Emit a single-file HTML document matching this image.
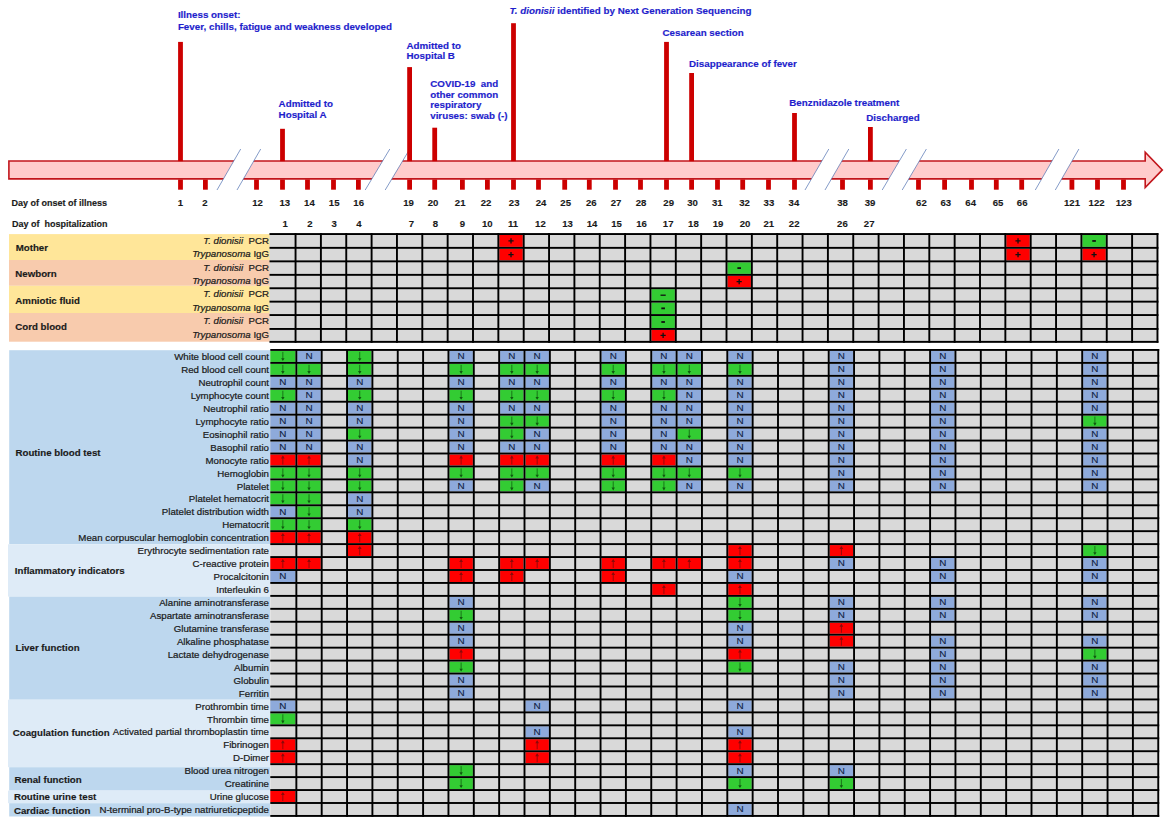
<!DOCTYPE html>
<html><head><meta charset="utf-8"><title>Timeline</title>
<style>html,body{margin:0;padding:0;background:#fff;}body{width:1171px;height:826px;overflow:hidden;}svg{display:block}</style>
</head><body>
<svg width="1171" height="826" viewBox="0 0 1171 826">
<path d="M8.9,161.0 L1145.2,161.0 L1145.2,152.3 L1162.3,169.9 L1145.2,187.6 L1145.2,178.9 L8.9,178.9 Z" fill="#ffcccc" stroke="#c2161c" stroke-width="1.6"/>
<polygon points="217.0,190 240.7,149 260.7,149 237.0,190" fill="#ffffff"/>
<polygon points="365.2,190 389.8,149 409.8,149 385.2,190" fill="#ffffff"/>
<polygon points="805.0,190 828.8,149 848.8,149 825.0,190" fill="#ffffff"/>
<polygon points="882.2,190 906.4,149 926.4,149 902.2,190" fill="#ffffff"/>
<polygon points="1035.3,190 1058.9,149 1078.9,149 1055.3,190" fill="#ffffff"/>
<rect x="178.10" y="179.5" width="4.8" height="10.20" fill="#cc0000"/>
<rect x="203.00" y="179.5" width="4.8" height="10.20" fill="#cc0000"/>
<rect x="254.10" y="179.5" width="4.8" height="10.20" fill="#cc0000"/>
<rect x="280.10" y="179.5" width="4.8" height="10.20" fill="#cc0000"/>
<rect x="305.10" y="179.5" width="4.8" height="10.20" fill="#cc0000"/>
<rect x="331.10" y="179.5" width="4.8" height="10.20" fill="#cc0000"/>
<rect x="356.00" y="179.5" width="4.8" height="10.20" fill="#cc0000"/>
<rect x="407.20" y="179.5" width="4.8" height="10.20" fill="#cc0000"/>
<rect x="432.30" y="179.5" width="4.8" height="10.20" fill="#cc0000"/>
<rect x="460.00" y="179.5" width="4.8" height="10.20" fill="#cc0000"/>
<rect x="485.00" y="179.5" width="4.8" height="10.20" fill="#cc0000"/>
<rect x="511.10" y="179.5" width="4.8" height="10.20" fill="#cc0000"/>
<rect x="536.10" y="179.5" width="4.8" height="10.20" fill="#cc0000"/>
<rect x="562.30" y="179.5" width="4.8" height="10.20" fill="#cc0000"/>
<rect x="586.90" y="179.5" width="4.8" height="10.20" fill="#cc0000"/>
<rect x="613.10" y="179.5" width="4.8" height="10.20" fill="#cc0000"/>
<rect x="638.10" y="179.5" width="4.8" height="10.20" fill="#cc0000"/>
<rect x="664.10" y="179.5" width="4.8" height="10.20" fill="#cc0000"/>
<rect x="689.20" y="179.5" width="4.8" height="10.20" fill="#cc0000"/>
<rect x="715.10" y="179.5" width="4.8" height="10.20" fill="#cc0000"/>
<rect x="740.30" y="179.5" width="4.8" height="10.20" fill="#cc0000"/>
<rect x="766.10" y="179.5" width="4.8" height="10.20" fill="#cc0000"/>
<rect x="792.10" y="179.5" width="4.8" height="10.20" fill="#cc0000"/>
<rect x="840.10" y="179.5" width="4.8" height="10.20" fill="#cc0000"/>
<rect x="868.00" y="179.5" width="4.8" height="10.20" fill="#cc0000"/>
<rect x="916.10" y="179.5" width="4.8" height="10.20" fill="#cc0000"/>
<rect x="942.20" y="179.5" width="4.8" height="10.20" fill="#cc0000"/>
<rect x="969.10" y="179.5" width="4.8" height="10.20" fill="#cc0000"/>
<rect x="993.90" y="179.5" width="4.8" height="10.20" fill="#cc0000"/>
<rect x="1019.30" y="179.5" width="4.8" height="10.20" fill="#cc0000"/>
<rect x="1069.50" y="179.5" width="4.8" height="10.20" fill="#cc0000"/>
<rect x="1095.10" y="179.5" width="4.8" height="10.20" fill="#cc0000"/>
<rect x="1121.10" y="179.5" width="4.8" height="10.20" fill="#cc0000"/>
<line x1="217.0" y1="190" x2="240.7" y2="149" stroke="#4f70b0" stroke-width="0.7"/>
<line x1="237.0" y1="190" x2="260.7" y2="149" stroke="#4f70b0" stroke-width="0.7"/>
<line x1="365.2" y1="190" x2="389.8" y2="149" stroke="#4f70b0" stroke-width="0.7"/>
<line x1="385.2" y1="190" x2="409.8" y2="149" stroke="#4f70b0" stroke-width="0.7"/>
<line x1="805.0" y1="190" x2="828.8" y2="149" stroke="#4f70b0" stroke-width="0.7"/>
<line x1="825.0" y1="190" x2="848.8" y2="149" stroke="#4f70b0" stroke-width="0.7"/>
<line x1="882.2" y1="190" x2="906.4" y2="149" stroke="#4f70b0" stroke-width="0.7"/>
<line x1="902.2" y1="190" x2="926.4" y2="149" stroke="#4f70b0" stroke-width="0.7"/>
<line x1="1035.3" y1="190" x2="1058.9" y2="149" stroke="#4f70b0" stroke-width="0.7"/>
<line x1="1055.3" y1="190" x2="1078.9" y2="149" stroke="#4f70b0" stroke-width="0.7"/>
<rect x="178.10" y="41.9" width="4.8" height="119.30" fill="#cc0000"/>
<rect x="280.10" y="128.8" width="4.8" height="32.40" fill="#cc0000"/>
<rect x="407.20" y="67.1" width="4.8" height="94.10" fill="#cc0000"/>
<rect x="432.30" y="127.7" width="4.8" height="33.50" fill="#cc0000"/>
<rect x="511.10" y="23.2" width="4.8" height="138.00" fill="#cc0000"/>
<rect x="664.10" y="41.9" width="4.8" height="119.30" fill="#cc0000"/>
<rect x="689.20" y="73.0" width="4.8" height="88.20" fill="#cc0000"/>
<rect x="792.10" y="113.0" width="4.8" height="48.20" fill="#cc0000"/>
<rect x="868.00" y="127.0" width="4.8" height="34.20" fill="#cc0000"/>
<text x="177.90" y="18.3" style="font-family:'Liberation Sans', sans-serif;font-weight:bold;font-size:9.8px;fill:#1e1ecc;stroke:#1e1ecc;stroke-width:0.15px" xml:space="preserve">Illness onset:</text>
<text x="177.90" y="29.6" style="font-family:'Liberation Sans', sans-serif;font-weight:bold;font-size:9.8px;fill:#1e1ecc;stroke:#1e1ecc;stroke-width:0.15px" xml:space="preserve">Fever, chills, fatigue and weakness developed</text>
<text x="278.60" y="107.0" style="font-family:'Liberation Sans', sans-serif;font-weight:bold;font-size:9.8px;fill:#1e1ecc;stroke:#1e1ecc;stroke-width:0.15px" xml:space="preserve">Admitted to</text>
<text x="278.60" y="118.0" style="font-family:'Liberation Sans', sans-serif;font-weight:bold;font-size:9.8px;fill:#1e1ecc;stroke:#1e1ecc;stroke-width:0.15px" xml:space="preserve">Hospital A</text>
<text x="406.50" y="48.7" style="font-family:'Liberation Sans', sans-serif;font-weight:bold;font-size:9.8px;fill:#1e1ecc;stroke:#1e1ecc;stroke-width:0.15px" xml:space="preserve">Admitted to</text>
<text x="406.50" y="59.4" style="font-family:'Liberation Sans', sans-serif;font-weight:bold;font-size:9.8px;fill:#1e1ecc;stroke:#1e1ecc;stroke-width:0.15px" xml:space="preserve">Hospital B</text>
<text x="430.20" y="86.5" style="font-family:'Liberation Sans', sans-serif;font-weight:bold;font-size:9.8px;fill:#1e1ecc;stroke:#1e1ecc;stroke-width:0.15px" xml:space="preserve">COVID-19  and</text>
<text x="430.20" y="97.5" style="font-family:'Liberation Sans', sans-serif;font-weight:bold;font-size:9.8px;fill:#1e1ecc;stroke:#1e1ecc;stroke-width:0.15px" xml:space="preserve">other common</text>
<text x="430.20" y="108.4" style="font-family:'Liberation Sans', sans-serif;font-weight:bold;font-size:9.8px;fill:#1e1ecc;stroke:#1e1ecc;stroke-width:0.15px" xml:space="preserve">respiratory</text>
<text x="430.20" y="119.4" style="font-family:'Liberation Sans', sans-serif;font-weight:bold;font-size:9.8px;fill:#1e1ecc;stroke:#1e1ecc;stroke-width:0.15px" xml:space="preserve">viruses: swab (-)</text>
<text x="509.5" y="13.7" style="font-family:'Liberation Sans', sans-serif;font-weight:bold;font-size:9.8px;fill:#1e1ecc;stroke:#1e1ecc;stroke-width:0.15px" xml:space="preserve"><tspan style="font-style:italic">T. dionisii</tspan> identified by Next Generation Sequencing</text>
<text x="662.50" y="36.1" style="font-family:'Liberation Sans', sans-serif;font-weight:bold;font-size:9.8px;fill:#1e1ecc;stroke:#1e1ecc;stroke-width:0.15px" xml:space="preserve">Cesarean section</text>
<text x="689.00" y="67.1" style="font-family:'Liberation Sans', sans-serif;font-weight:bold;font-size:9.8px;fill:#1e1ecc;stroke:#1e1ecc;stroke-width:0.15px" xml:space="preserve">Disappearance of fever</text>
<text x="789.30" y="106.1" style="font-family:'Liberation Sans', sans-serif;font-weight:bold;font-size:9.8px;fill:#1e1ecc;stroke:#1e1ecc;stroke-width:0.15px" xml:space="preserve">Benznidazole treatment</text>
<text x="866.30" y="121.2" style="font-family:'Liberation Sans', sans-serif;font-weight:bold;font-size:9.8px;fill:#1e1ecc;stroke:#1e1ecc;stroke-width:0.15px" xml:space="preserve">Discharged</text>
<text x="11.6" y="205.6" style="font-family:'Liberation Sans', sans-serif;font-weight:bold;font-size:9.0px;fill:#1a1a1a;stroke:#1a1a1a;stroke-width:0.15px" xml:space="preserve">Day of onset of illness</text>
<text x="12.0" y="226.5" style="font-family:'Liberation Sans', sans-serif;font-weight:bold;font-size:9.0px;fill:#1a1a1a;stroke:#1a1a1a;stroke-width:0.15px" xml:space="preserve">Day of  hospitalization</text>
<text x="180.3" y="205.6" text-anchor="middle" style="font-family:'Liberation Sans', sans-serif;font-weight:bold;font-size:9.6px;fill:#1a1a1a;stroke:#1a1a1a;stroke-width:0.12px">1</text>
<text x="204.8" y="205.6" text-anchor="middle" style="font-family:'Liberation Sans', sans-serif;font-weight:bold;font-size:9.6px;fill:#1a1a1a;stroke:#1a1a1a;stroke-width:0.12px">2</text>
<text x="257.6" y="205.6" text-anchor="middle" style="font-family:'Liberation Sans', sans-serif;font-weight:bold;font-size:9.6px;fill:#1a1a1a;stroke:#1a1a1a;stroke-width:0.12px">12</text>
<text x="284.8" y="205.6" text-anchor="middle" style="font-family:'Liberation Sans', sans-serif;font-weight:bold;font-size:9.6px;fill:#1a1a1a;stroke:#1a1a1a;stroke-width:0.12px">13</text>
<text x="309.4" y="205.6" text-anchor="middle" style="font-family:'Liberation Sans', sans-serif;font-weight:bold;font-size:9.6px;fill:#1a1a1a;stroke:#1a1a1a;stroke-width:0.12px">14</text>
<text x="334.2" y="205.6" text-anchor="middle" style="font-family:'Liberation Sans', sans-serif;font-weight:bold;font-size:9.6px;fill:#1a1a1a;stroke:#1a1a1a;stroke-width:0.12px">15</text>
<text x="358.7" y="205.6" text-anchor="middle" style="font-family:'Liberation Sans', sans-serif;font-weight:bold;font-size:9.6px;fill:#1a1a1a;stroke:#1a1a1a;stroke-width:0.12px">16</text>
<text x="408.5" y="205.6" text-anchor="middle" style="font-family:'Liberation Sans', sans-serif;font-weight:bold;font-size:9.6px;fill:#1a1a1a;stroke:#1a1a1a;stroke-width:0.12px">19</text>
<text x="433.1" y="205.6" text-anchor="middle" style="font-family:'Liberation Sans', sans-serif;font-weight:bold;font-size:9.6px;fill:#1a1a1a;stroke:#1a1a1a;stroke-width:0.12px">20</text>
<text x="460.2" y="205.6" text-anchor="middle" style="font-family:'Liberation Sans', sans-serif;font-weight:bold;font-size:9.6px;fill:#1a1a1a;stroke:#1a1a1a;stroke-width:0.12px">21</text>
<text x="486.1" y="205.6" text-anchor="middle" style="font-family:'Liberation Sans', sans-serif;font-weight:bold;font-size:9.6px;fill:#1a1a1a;stroke:#1a1a1a;stroke-width:0.12px">22</text>
<text x="514.2" y="205.6" text-anchor="middle" style="font-family:'Liberation Sans', sans-serif;font-weight:bold;font-size:9.6px;fill:#1a1a1a;stroke:#1a1a1a;stroke-width:0.12px">23</text>
<text x="541.1" y="205.6" text-anchor="middle" style="font-family:'Liberation Sans', sans-serif;font-weight:bold;font-size:9.6px;fill:#1a1a1a;stroke:#1a1a1a;stroke-width:0.12px">24</text>
<text x="565.7" y="205.6" text-anchor="middle" style="font-family:'Liberation Sans', sans-serif;font-weight:bold;font-size:9.6px;fill:#1a1a1a;stroke:#1a1a1a;stroke-width:0.12px">25</text>
<text x="591.3" y="205.6" text-anchor="middle" style="font-family:'Liberation Sans', sans-serif;font-weight:bold;font-size:9.6px;fill:#1a1a1a;stroke:#1a1a1a;stroke-width:0.12px">26</text>
<text x="616.1" y="205.6" text-anchor="middle" style="font-family:'Liberation Sans', sans-serif;font-weight:bold;font-size:9.6px;fill:#1a1a1a;stroke:#1a1a1a;stroke-width:0.12px">27</text>
<text x="641.0" y="205.6" text-anchor="middle" style="font-family:'Liberation Sans', sans-serif;font-weight:bold;font-size:9.6px;fill:#1a1a1a;stroke:#1a1a1a;stroke-width:0.12px">28</text>
<text x="668.7" y="205.6" text-anchor="middle" style="font-family:'Liberation Sans', sans-serif;font-weight:bold;font-size:9.6px;fill:#1a1a1a;stroke:#1a1a1a;stroke-width:0.12px">29</text>
<text x="692.6" y="205.6" text-anchor="middle" style="font-family:'Liberation Sans', sans-serif;font-weight:bold;font-size:9.6px;fill:#1a1a1a;stroke:#1a1a1a;stroke-width:0.12px">30</text>
<text x="717.3" y="205.6" text-anchor="middle" style="font-family:'Liberation Sans', sans-serif;font-weight:bold;font-size:9.6px;fill:#1a1a1a;stroke:#1a1a1a;stroke-width:0.12px">31</text>
<text x="744.5" y="205.6" text-anchor="middle" style="font-family:'Liberation Sans', sans-serif;font-weight:bold;font-size:9.6px;fill:#1a1a1a;stroke:#1a1a1a;stroke-width:0.12px">32</text>
<text x="768.9" y="205.6" text-anchor="middle" style="font-family:'Liberation Sans', sans-serif;font-weight:bold;font-size:9.6px;fill:#1a1a1a;stroke:#1a1a1a;stroke-width:0.12px">33</text>
<text x="793.9" y="205.6" text-anchor="middle" style="font-family:'Liberation Sans', sans-serif;font-weight:bold;font-size:9.6px;fill:#1a1a1a;stroke:#1a1a1a;stroke-width:0.12px">34</text>
<text x="842.6" y="205.6" text-anchor="middle" style="font-family:'Liberation Sans', sans-serif;font-weight:bold;font-size:9.6px;fill:#1a1a1a;stroke:#1a1a1a;stroke-width:0.12px">38</text>
<text x="870.0" y="205.6" text-anchor="middle" style="font-family:'Liberation Sans', sans-serif;font-weight:bold;font-size:9.6px;fill:#1a1a1a;stroke:#1a1a1a;stroke-width:0.12px">39</text>
<text x="921.4" y="205.6" text-anchor="middle" style="font-family:'Liberation Sans', sans-serif;font-weight:bold;font-size:9.6px;fill:#1a1a1a;stroke:#1a1a1a;stroke-width:0.12px">62</text>
<text x="945.8" y="205.6" text-anchor="middle" style="font-family:'Liberation Sans', sans-serif;font-weight:bold;font-size:9.6px;fill:#1a1a1a;stroke:#1a1a1a;stroke-width:0.12px">63</text>
<text x="970.7" y="205.6" text-anchor="middle" style="font-family:'Liberation Sans', sans-serif;font-weight:bold;font-size:9.6px;fill:#1a1a1a;stroke:#1a1a1a;stroke-width:0.12px">64</text>
<text x="998.0" y="205.6" text-anchor="middle" style="font-family:'Liberation Sans', sans-serif;font-weight:bold;font-size:9.6px;fill:#1a1a1a;stroke:#1a1a1a;stroke-width:0.12px">65</text>
<text x="1022.2" y="205.6" text-anchor="middle" style="font-family:'Liberation Sans', sans-serif;font-weight:bold;font-size:9.6px;fill:#1a1a1a;stroke:#1a1a1a;stroke-width:0.12px">66</text>
<text x="1072.0" y="205.6" text-anchor="middle" style="font-family:'Liberation Sans', sans-serif;font-weight:bold;font-size:9.6px;fill:#1a1a1a;stroke:#1a1a1a;stroke-width:0.12px">121</text>
<text x="1096.6" y="205.6" text-anchor="middle" style="font-family:'Liberation Sans', sans-serif;font-weight:bold;font-size:9.6px;fill:#1a1a1a;stroke:#1a1a1a;stroke-width:0.12px">122</text>
<text x="1123.8" y="205.6" text-anchor="middle" style="font-family:'Liberation Sans', sans-serif;font-weight:bold;font-size:9.6px;fill:#1a1a1a;stroke:#1a1a1a;stroke-width:0.12px">123</text>
<text x="285.1" y="226.5" text-anchor="middle" style="font-family:'Liberation Sans', sans-serif;font-weight:bold;font-size:9.6px;fill:#1a1a1a;stroke:#1a1a1a;stroke-width:0.12px">1</text>
<text x="310.0" y="226.5" text-anchor="middle" style="font-family:'Liberation Sans', sans-serif;font-weight:bold;font-size:9.6px;fill:#1a1a1a;stroke:#1a1a1a;stroke-width:0.12px">2</text>
<text x="334.2" y="226.5" text-anchor="middle" style="font-family:'Liberation Sans', sans-serif;font-weight:bold;font-size:9.6px;fill:#1a1a1a;stroke:#1a1a1a;stroke-width:0.12px">3</text>
<text x="358.8" y="226.5" text-anchor="middle" style="font-family:'Liberation Sans', sans-serif;font-weight:bold;font-size:9.6px;fill:#1a1a1a;stroke:#1a1a1a;stroke-width:0.12px">4</text>
<text x="411.4" y="226.5" text-anchor="middle" style="font-family:'Liberation Sans', sans-serif;font-weight:bold;font-size:9.6px;fill:#1a1a1a;stroke:#1a1a1a;stroke-width:0.12px">7</text>
<text x="435.4" y="226.5" text-anchor="middle" style="font-family:'Liberation Sans', sans-serif;font-weight:bold;font-size:9.6px;fill:#1a1a1a;stroke:#1a1a1a;stroke-width:0.12px">8</text>
<text x="462.3" y="226.5" text-anchor="middle" style="font-family:'Liberation Sans', sans-serif;font-weight:bold;font-size:9.6px;fill:#1a1a1a;stroke:#1a1a1a;stroke-width:0.12px">9</text>
<text x="487.3" y="226.5" text-anchor="middle" style="font-family:'Liberation Sans', sans-serif;font-weight:bold;font-size:9.6px;fill:#1a1a1a;stroke:#1a1a1a;stroke-width:0.12px">10</text>
<text x="513.0" y="226.5" text-anchor="middle" style="font-family:'Liberation Sans', sans-serif;font-weight:bold;font-size:9.6px;fill:#1a1a1a;stroke:#1a1a1a;stroke-width:0.12px">11</text>
<text x="540.4" y="226.5" text-anchor="middle" style="font-family:'Liberation Sans', sans-serif;font-weight:bold;font-size:9.6px;fill:#1a1a1a;stroke:#1a1a1a;stroke-width:0.12px">12</text>
<text x="567.5" y="226.5" text-anchor="middle" style="font-family:'Liberation Sans', sans-serif;font-weight:bold;font-size:9.6px;fill:#1a1a1a;stroke:#1a1a1a;stroke-width:0.12px">13</text>
<text x="592.0" y="226.5" text-anchor="middle" style="font-family:'Liberation Sans', sans-serif;font-weight:bold;font-size:9.6px;fill:#1a1a1a;stroke:#1a1a1a;stroke-width:0.12px">14</text>
<text x="616.6" y="226.5" text-anchor="middle" style="font-family:'Liberation Sans', sans-serif;font-weight:bold;font-size:9.6px;fill:#1a1a1a;stroke:#1a1a1a;stroke-width:0.12px">15</text>
<text x="641.5" y="226.5" text-anchor="middle" style="font-family:'Liberation Sans', sans-serif;font-weight:bold;font-size:9.6px;fill:#1a1a1a;stroke:#1a1a1a;stroke-width:0.12px">16</text>
<text x="668.2" y="226.5" text-anchor="middle" style="font-family:'Liberation Sans', sans-serif;font-weight:bold;font-size:9.6px;fill:#1a1a1a;stroke:#1a1a1a;stroke-width:0.12px">17</text>
<text x="693.4" y="226.5" text-anchor="middle" style="font-family:'Liberation Sans', sans-serif;font-weight:bold;font-size:9.6px;fill:#1a1a1a;stroke:#1a1a1a;stroke-width:0.12px">18</text>
<text x="718.0" y="226.5" text-anchor="middle" style="font-family:'Liberation Sans', sans-serif;font-weight:bold;font-size:9.6px;fill:#1a1a1a;stroke:#1a1a1a;stroke-width:0.12px">19</text>
<text x="745.0" y="226.5" text-anchor="middle" style="font-family:'Liberation Sans', sans-serif;font-weight:bold;font-size:9.6px;fill:#1a1a1a;stroke:#1a1a1a;stroke-width:0.12px">20</text>
<text x="768.8" y="226.5" text-anchor="middle" style="font-family:'Liberation Sans', sans-serif;font-weight:bold;font-size:9.6px;fill:#1a1a1a;stroke:#1a1a1a;stroke-width:0.12px">21</text>
<text x="794.2" y="226.5" text-anchor="middle" style="font-family:'Liberation Sans', sans-serif;font-weight:bold;font-size:9.6px;fill:#1a1a1a;stroke:#1a1a1a;stroke-width:0.12px">22</text>
<text x="842.4" y="226.5" text-anchor="middle" style="font-family:'Liberation Sans', sans-serif;font-weight:bold;font-size:9.6px;fill:#1a1a1a;stroke:#1a1a1a;stroke-width:0.12px">26</text>
<text x="869.2" y="226.5" text-anchor="middle" style="font-family:'Liberation Sans', sans-serif;font-weight:bold;font-size:9.6px;fill:#1a1a1a;stroke:#1a1a1a;stroke-width:0.12px">27</text>
<rect x="9" y="234.10" width="261" height="25.90" fill="#ffe699"/>
<rect x="9" y="260.00" width="261" height="25.80" fill="#f8cbad"/>
<rect x="9" y="285.80" width="261" height="27.20" fill="#ffe699"/>
<rect x="9" y="313.00" width="261" height="28.70" fill="#f8cbad"/>
<text x="15.7" y="251.3" style="font-family:'Liberation Sans', sans-serif;font-size:9.7px;font-weight:bold;fill:#1a1a1a;stroke:#1a1a1a;stroke-width:0.15px">Mother</text>
<text x="269.0" y="243.8" text-anchor="end" style="font-family:'Liberation Sans', sans-serif;font-size:9.7px;fill:#1a1a1a;stroke:#1a1a1a;stroke-width:0.22px" xml:space="preserve"><tspan style="font-style:italic">T. dionisii</tspan>  PCR</text>
<text x="269.0" y="257.4" text-anchor="end" style="font-family:'Liberation Sans', sans-serif;font-size:9.7px;fill:#1a1a1a;stroke:#1a1a1a;stroke-width:0.22px" xml:space="preserve"><tspan style="font-style:italic">Trypanosoma</tspan> IgG</text>
<text x="15.3" y="277.0" style="font-family:'Liberation Sans', sans-serif;font-size:9.7px;font-weight:bold;fill:#1a1a1a;stroke:#1a1a1a;stroke-width:0.15px">Newborn</text>
<text x="269.0" y="270.6" text-anchor="end" style="font-family:'Liberation Sans', sans-serif;font-size:9.7px;fill:#1a1a1a;stroke:#1a1a1a;stroke-width:0.22px" xml:space="preserve"><tspan style="font-style:italic">T. dionisii</tspan>  PCR</text>
<text x="269.0" y="284.1" text-anchor="end" style="font-family:'Liberation Sans', sans-serif;font-size:9.7px;fill:#1a1a1a;stroke:#1a1a1a;stroke-width:0.22px" xml:space="preserve"><tspan style="font-style:italic">Trypanosoma</tspan> IgG</text>
<text x="15.3" y="304.3" style="font-family:'Liberation Sans', sans-serif;font-size:9.7px;font-weight:bold;fill:#1a1a1a;stroke:#1a1a1a;stroke-width:0.15px">Amniotic fluid</text>
<text x="269.0" y="297.4" text-anchor="end" style="font-family:'Liberation Sans', sans-serif;font-size:9.7px;fill:#1a1a1a;stroke:#1a1a1a;stroke-width:0.22px" xml:space="preserve"><tspan style="font-style:italic">T. dionisii</tspan>  PCR</text>
<text x="269.0" y="310.6" text-anchor="end" style="font-family:'Liberation Sans', sans-serif;font-size:9.7px;fill:#1a1a1a;stroke:#1a1a1a;stroke-width:0.22px" xml:space="preserve"><tspan style="font-style:italic">Trypanosoma</tspan> IgG</text>
<text x="15.3" y="329.7" style="font-family:'Liberation Sans', sans-serif;font-size:9.7px;font-weight:bold;fill:#1a1a1a;stroke:#1a1a1a;stroke-width:0.15px">Cord blood</text>
<text x="269.0" y="324.0" text-anchor="end" style="font-family:'Liberation Sans', sans-serif;font-size:9.7px;fill:#1a1a1a;stroke:#1a1a1a;stroke-width:0.22px" xml:space="preserve"><tspan style="font-style:italic">T. dionisii</tspan>  PCR</text>
<text x="269.0" y="337.6" text-anchor="end" style="font-family:'Liberation Sans', sans-serif;font-size:9.7px;fill:#1a1a1a;stroke:#1a1a1a;stroke-width:0.22px" xml:space="preserve"><tspan style="font-style:italic">Trypanosoma</tspan> IgG</text>
<rect x="9.2" y="350.20" width="260.80" height="194.10" fill="#bdd7ee"/>
<rect x="8.0" y="544.30" width="262.00" height="52.30" fill="#deebf7"/>
<rect x="9.2" y="596.60" width="260.80" height="103.10" fill="#bdd7ee"/>
<rect x="8.0" y="699.70" width="262.00" height="67.50" fill="#deebf7"/>
<rect x="9.2" y="767.20" width="260.80" height="23.40" fill="#bdd7ee"/>
<rect x="8.0" y="790.60" width="262.00" height="12.60" fill="#deebf7"/>
<rect x="9.2" y="803.20" width="260.80" height="13.30" fill="#bdd7ee"/>
<text x="15.5" y="455.7" style="font-family:'Liberation Sans', sans-serif;font-size:9.7px;font-weight:bold;fill:#1a1a1a;stroke:#1a1a1a;stroke-width:0.15px">Routine blood test</text>
<text x="14.8" y="573.6" style="font-family:'Liberation Sans', sans-serif;font-size:9.7px;font-weight:bold;fill:#1a1a1a;stroke:#1a1a1a;stroke-width:0.15px">Inflammatory indicators</text>
<text x="15.5" y="651.2" style="font-family:'Liberation Sans', sans-serif;font-size:9.7px;font-weight:bold;fill:#1a1a1a;stroke:#1a1a1a;stroke-width:0.15px">Liver function</text>
<text x="12.8" y="735.7" style="font-family:'Liberation Sans', sans-serif;font-size:9.7px;font-weight:bold;fill:#1a1a1a;stroke:#1a1a1a;stroke-width:0.15px">Coagulation function</text>
<text x="14.4" y="782.5" style="font-family:'Liberation Sans', sans-serif;font-size:9.7px;font-weight:bold;fill:#1a1a1a;stroke:#1a1a1a;stroke-width:0.15px">Renal function</text>
<text x="13.9" y="799.8" style="font-family:'Liberation Sans', sans-serif;font-size:9.7px;font-weight:bold;fill:#1a1a1a;stroke:#1a1a1a;stroke-width:0.15px">Routine urine test</text>
<text x="13.9" y="814.3" style="font-family:'Liberation Sans', sans-serif;font-size:9.7px;font-weight:bold;fill:#1a1a1a;stroke:#1a1a1a;stroke-width:0.15px">Cardiac function</text>
<text x="269.0" y="360.10" text-anchor="end" style="font-family:'Liberation Sans', sans-serif;font-size:9.7px;fill:#1a1a1a;stroke:#1a1a1a;stroke-width:0.22px" xml:space="preserve">White blood cell count</text>
<text x="269.0" y="373.04" text-anchor="end" style="font-family:'Liberation Sans', sans-serif;font-size:9.7px;fill:#1a1a1a;stroke:#1a1a1a;stroke-width:0.22px" xml:space="preserve">Red blood cell count</text>
<text x="269.0" y="385.99" text-anchor="end" style="font-family:'Liberation Sans', sans-serif;font-size:9.7px;fill:#1a1a1a;stroke:#1a1a1a;stroke-width:0.22px" xml:space="preserve">Neutrophil count</text>
<text x="269.0" y="398.93" text-anchor="end" style="font-family:'Liberation Sans', sans-serif;font-size:9.7px;fill:#1a1a1a;stroke:#1a1a1a;stroke-width:0.22px" xml:space="preserve">Lymphocyte count</text>
<text x="269.0" y="411.88" text-anchor="end" style="font-family:'Liberation Sans', sans-serif;font-size:9.7px;fill:#1a1a1a;stroke:#1a1a1a;stroke-width:0.22px" xml:space="preserve">Neutrophil ratio</text>
<text x="269.0" y="424.82" text-anchor="end" style="font-family:'Liberation Sans', sans-serif;font-size:9.7px;fill:#1a1a1a;stroke:#1a1a1a;stroke-width:0.22px" xml:space="preserve">Lymphocyte ratio</text>
<text x="269.0" y="437.76" text-anchor="end" style="font-family:'Liberation Sans', sans-serif;font-size:9.7px;fill:#1a1a1a;stroke:#1a1a1a;stroke-width:0.22px" xml:space="preserve">Eosinophil ratio</text>
<text x="269.0" y="450.71" text-anchor="end" style="font-family:'Liberation Sans', sans-serif;font-size:9.7px;fill:#1a1a1a;stroke:#1a1a1a;stroke-width:0.22px" xml:space="preserve">Basophil ratio</text>
<text x="269.0" y="463.65" text-anchor="end" style="font-family:'Liberation Sans', sans-serif;font-size:9.7px;fill:#1a1a1a;stroke:#1a1a1a;stroke-width:0.22px" xml:space="preserve">Monocyte ratio</text>
<text x="269.0" y="476.60" text-anchor="end" style="font-family:'Liberation Sans', sans-serif;font-size:9.7px;fill:#1a1a1a;stroke:#1a1a1a;stroke-width:0.22px" xml:space="preserve">Hemoglobin</text>
<text x="269.0" y="489.54" text-anchor="end" style="font-family:'Liberation Sans', sans-serif;font-size:9.7px;fill:#1a1a1a;stroke:#1a1a1a;stroke-width:0.22px" xml:space="preserve">Platelet</text>
<text x="269.0" y="502.48" text-anchor="end" style="font-family:'Liberation Sans', sans-serif;font-size:9.7px;fill:#1a1a1a;stroke:#1a1a1a;stroke-width:0.22px" xml:space="preserve">Platelet hematocrit</text>
<text x="269.0" y="515.43" text-anchor="end" style="font-family:'Liberation Sans', sans-serif;font-size:9.7px;fill:#1a1a1a;stroke:#1a1a1a;stroke-width:0.22px" xml:space="preserve">Platelet distribution width</text>
<text x="269.0" y="528.37" text-anchor="end" style="font-family:'Liberation Sans', sans-serif;font-size:9.7px;fill:#1a1a1a;stroke:#1a1a1a;stroke-width:0.22px" xml:space="preserve">Hematocrit</text>
<text x="269.0" y="541.32" text-anchor="end" style="font-family:'Liberation Sans', sans-serif;font-size:9.7px;fill:#1a1a1a;stroke:#1a1a1a;stroke-width:0.22px" xml:space="preserve">Mean corpuscular hemoglobin concentration</text>
<text x="269.0" y="554.26" text-anchor="end" style="font-family:'Liberation Sans', sans-serif;font-size:9.7px;fill:#1a1a1a;stroke:#1a1a1a;stroke-width:0.22px" xml:space="preserve">Erythrocyte sedimentation rate</text>
<text x="269.0" y="567.20" text-anchor="end" style="font-family:'Liberation Sans', sans-serif;font-size:9.7px;fill:#1a1a1a;stroke:#1a1a1a;stroke-width:0.22px" xml:space="preserve">C-reactive protein</text>
<text x="269.0" y="580.15" text-anchor="end" style="font-family:'Liberation Sans', sans-serif;font-size:9.7px;fill:#1a1a1a;stroke:#1a1a1a;stroke-width:0.22px" xml:space="preserve">Procalcitonin</text>
<text x="269.0" y="593.09" text-anchor="end" style="font-family:'Liberation Sans', sans-serif;font-size:9.7px;fill:#1a1a1a;stroke:#1a1a1a;stroke-width:0.22px" xml:space="preserve">Interleukin 6</text>
<text x="269.0" y="606.04" text-anchor="end" style="font-family:'Liberation Sans', sans-serif;font-size:9.7px;fill:#1a1a1a;stroke:#1a1a1a;stroke-width:0.22px" xml:space="preserve">Alanine aminotransferase</text>
<text x="269.0" y="618.98" text-anchor="end" style="font-family:'Liberation Sans', sans-serif;font-size:9.7px;fill:#1a1a1a;stroke:#1a1a1a;stroke-width:0.22px" xml:space="preserve">Aspartate aminotransferase</text>
<text x="269.0" y="631.92" text-anchor="end" style="font-family:'Liberation Sans', sans-serif;font-size:9.7px;fill:#1a1a1a;stroke:#1a1a1a;stroke-width:0.22px" xml:space="preserve">Glutamine transferase</text>
<text x="269.0" y="644.87" text-anchor="end" style="font-family:'Liberation Sans', sans-serif;font-size:9.7px;fill:#1a1a1a;stroke:#1a1a1a;stroke-width:0.22px" xml:space="preserve">Alkaline phosphatase</text>
<text x="269.0" y="657.81" text-anchor="end" style="font-family:'Liberation Sans', sans-serif;font-size:9.7px;fill:#1a1a1a;stroke:#1a1a1a;stroke-width:0.22px" xml:space="preserve">Lactate dehydrogenase</text>
<text x="269.0" y="670.76" text-anchor="end" style="font-family:'Liberation Sans', sans-serif;font-size:9.7px;fill:#1a1a1a;stroke:#1a1a1a;stroke-width:0.22px" xml:space="preserve">Albumin</text>
<text x="269.0" y="683.70" text-anchor="end" style="font-family:'Liberation Sans', sans-serif;font-size:9.7px;fill:#1a1a1a;stroke:#1a1a1a;stroke-width:0.22px" xml:space="preserve">Globulin</text>
<text x="269.0" y="696.64" text-anchor="end" style="font-family:'Liberation Sans', sans-serif;font-size:9.7px;fill:#1a1a1a;stroke:#1a1a1a;stroke-width:0.22px" xml:space="preserve">Ferritin</text>
<text x="269.0" y="709.59" text-anchor="end" style="font-family:'Liberation Sans', sans-serif;font-size:9.7px;fill:#1a1a1a;stroke:#1a1a1a;stroke-width:0.22px" xml:space="preserve">Prothrombin time</text>
<text x="269.0" y="722.53" text-anchor="end" style="font-family:'Liberation Sans', sans-serif;font-size:9.7px;fill:#1a1a1a;stroke:#1a1a1a;stroke-width:0.22px" xml:space="preserve">Thrombin time</text>
<text x="269.0" y="735.48" text-anchor="end" style="font-family:'Liberation Sans', sans-serif;font-size:9.7px;fill:#1a1a1a;stroke:#1a1a1a;stroke-width:0.22px" xml:space="preserve">Activated partial thromboplastin time</text>
<text x="269.0" y="748.42" text-anchor="end" style="font-family:'Liberation Sans', sans-serif;font-size:9.7px;fill:#1a1a1a;stroke:#1a1a1a;stroke-width:0.22px" xml:space="preserve">Fibrinogen</text>
<text x="269.0" y="761.36" text-anchor="end" style="font-family:'Liberation Sans', sans-serif;font-size:9.7px;fill:#1a1a1a;stroke:#1a1a1a;stroke-width:0.22px" xml:space="preserve">D-Dimer</text>
<text x="269.0" y="774.31" text-anchor="end" style="font-family:'Liberation Sans', sans-serif;font-size:9.7px;fill:#1a1a1a;stroke:#1a1a1a;stroke-width:0.22px" xml:space="preserve">Blood urea nitrogen</text>
<text x="269.0" y="787.25" text-anchor="end" style="font-family:'Liberation Sans', sans-serif;font-size:9.7px;fill:#1a1a1a;stroke:#1a1a1a;stroke-width:0.22px" xml:space="preserve">Creatinine</text>
<text x="269.0" y="800.20" text-anchor="end" style="font-family:'Liberation Sans', sans-serif;font-size:9.7px;fill:#1a1a1a;stroke:#1a1a1a;stroke-width:0.22px" xml:space="preserve">Urine glucose</text>
<text x="269.0" y="813.14" text-anchor="end" style="font-family:'Liberation Sans', sans-serif;font-size:9.7px;fill:#1a1a1a;stroke:#1a1a1a;stroke-width:0.22px" xml:space="preserve">N-terminal pro-B-type natriureticpeptide</text>
<rect x="269.50" y="233.10" width="888.90" height="109.70" fill="#d9d9d9"/>
<rect x="499.30" y="235.00" width="23.45" height="11.90" fill="#ff0000"/>
<rect x="1006.30" y="235.00" width="23.45" height="11.90" fill="#ff0000"/>
<rect x="1082.35" y="235.00" width="23.45" height="11.90" fill="#33cc33"/>
<rect x="499.30" y="248.80" width="23.45" height="11.60" fill="#ff0000"/>
<rect x="1006.30" y="248.80" width="23.45" height="11.60" fill="#ff0000"/>
<rect x="1082.35" y="248.80" width="23.45" height="11.60" fill="#ff0000"/>
<rect x="727.45" y="262.30" width="23.45" height="11.60" fill="#33cc33"/>
<rect x="727.45" y="275.80" width="23.45" height="11.50" fill="#ff0000"/>
<rect x="651.40" y="289.20" width="23.45" height="11.50" fill="#33cc33"/>
<rect x="651.40" y="302.60" width="23.45" height="11.50" fill="#33cc33"/>
<rect x="651.40" y="316.00" width="23.45" height="12.00" fill="#33cc33"/>
<rect x="651.40" y="329.90" width="23.45" height="11.00" fill="#ff0000"/>
<rect x="269.50" y="233.10" width="888.90" height="1.9" fill="#000"/>
<rect x="269.50" y="246.90" width="888.90" height="1.9" fill="#000"/>
<rect x="269.50" y="260.40" width="888.90" height="1.9" fill="#000"/>
<rect x="269.50" y="273.90" width="888.90" height="1.9" fill="#000"/>
<rect x="269.50" y="287.30" width="888.90" height="1.9" fill="#000"/>
<rect x="269.50" y="300.70" width="888.90" height="1.9" fill="#000"/>
<rect x="269.50" y="314.10" width="888.90" height="1.9" fill="#000"/>
<rect x="269.50" y="328.00" width="888.90" height="1.9" fill="#000"/>
<rect x="269.50" y="340.90" width="888.90" height="1.9" fill="#000"/>
<rect x="294.60" y="233.10" width="1.9" height="109.70" fill="#000"/>
<rect x="319.95" y="233.10" width="1.9" height="109.70" fill="#000"/>
<rect x="345.30" y="233.10" width="1.9" height="109.70" fill="#000"/>
<rect x="370.65" y="233.10" width="1.9" height="109.70" fill="#000"/>
<rect x="396.00" y="233.10" width="1.9" height="109.70" fill="#000"/>
<rect x="421.35" y="233.10" width="1.9" height="109.70" fill="#000"/>
<rect x="446.70" y="233.10" width="1.9" height="109.70" fill="#000"/>
<rect x="472.05" y="233.10" width="1.9" height="109.70" fill="#000"/>
<rect x="497.40" y="233.10" width="1.9" height="109.70" fill="#000"/>
<rect x="522.75" y="233.10" width="1.9" height="109.70" fill="#000"/>
<rect x="548.10" y="233.10" width="1.9" height="109.70" fill="#000"/>
<rect x="573.45" y="233.10" width="1.9" height="109.70" fill="#000"/>
<rect x="598.80" y="233.10" width="1.9" height="109.70" fill="#000"/>
<rect x="624.15" y="233.10" width="1.9" height="109.70" fill="#000"/>
<rect x="649.50" y="233.10" width="1.9" height="109.70" fill="#000"/>
<rect x="674.85" y="233.10" width="1.9" height="109.70" fill="#000"/>
<rect x="700.20" y="233.10" width="1.9" height="109.70" fill="#000"/>
<rect x="725.55" y="233.10" width="1.9" height="109.70" fill="#000"/>
<rect x="750.90" y="233.10" width="1.9" height="109.70" fill="#000"/>
<rect x="776.25" y="233.10" width="1.9" height="109.70" fill="#000"/>
<rect x="801.60" y="233.10" width="1.9" height="109.70" fill="#000"/>
<rect x="826.95" y="233.10" width="1.9" height="109.70" fill="#000"/>
<rect x="852.30" y="233.10" width="1.9" height="109.70" fill="#000"/>
<rect x="877.65" y="233.10" width="1.9" height="109.70" fill="#000"/>
<rect x="903.00" y="233.10" width="1.9" height="109.70" fill="#000"/>
<rect x="928.35" y="233.10" width="1.9" height="109.70" fill="#000"/>
<rect x="953.70" y="233.10" width="1.9" height="109.70" fill="#000"/>
<rect x="979.05" y="233.10" width="1.9" height="109.70" fill="#000"/>
<rect x="1004.40" y="233.10" width="1.9" height="109.70" fill="#000"/>
<rect x="1029.75" y="233.10" width="1.9" height="109.70" fill="#000"/>
<rect x="1055.10" y="233.10" width="1.9" height="109.70" fill="#000"/>
<rect x="1080.45" y="233.10" width="1.9" height="109.70" fill="#000"/>
<rect x="1105.80" y="233.10" width="1.9" height="109.70" fill="#000"/>
<rect x="1131.15" y="233.10" width="1.9" height="109.70" fill="#000"/>
<rect x="1156.50" y="233.10" width="1.9" height="109.70" fill="#000"/>
<path d="M508.42,240.95H513.62M511.02,238.35V243.55" stroke="#111" stroke-width="1.3"/>
<path d="M1015.43,240.95H1020.63M1018.03,238.35V243.55" stroke="#111" stroke-width="1.3"/>
<rect x="1092.27" y="240.05" width="3.6" height="1.8" fill="#111"/>
<path d="M508.42,254.60H513.62M511.02,252.00V257.20" stroke="#111" stroke-width="1.3"/>
<path d="M1015.43,254.60H1020.63M1018.03,252.00V257.20" stroke="#111" stroke-width="1.3"/>
<path d="M1091.47,254.60H1096.67M1094.07,252.00V257.20" stroke="#111" stroke-width="1.3"/>
<rect x="737.38" y="267.20" width="3.6" height="1.8" fill="#111"/>
<path d="M736.57,281.55H741.77M739.17,278.95V284.15" stroke="#111" stroke-width="1.3"/>
<rect x="660.52" y="294.55" width="5.2" height="1.3" fill="#111"/>
<rect x="661.33" y="307.45" width="3.6" height="1.8" fill="#111"/>
<rect x="661.33" y="321.10" width="3.6" height="1.8" fill="#111"/>
<path d="M660.52,335.40H665.73M663.12,332.80V338.00" stroke="#111" stroke-width="1.3"/>
<rect x="270.30" y="349.00" width="888.90" height="467.88" fill="#d9d9d9"/>
<rect x="270.30" y="350.90" width="25.10" height="11.04" fill="#33cc33"/>
<rect x="297.30" y="350.90" width="23.45" height="11.04" fill="#8eaadb"/>
<rect x="348.00" y="350.90" width="23.45" height="11.04" fill="#33cc33"/>
<rect x="449.40" y="350.90" width="23.45" height="11.04" fill="#8eaadb"/>
<rect x="500.10" y="350.90" width="23.45" height="11.04" fill="#8eaadb"/>
<rect x="525.45" y="350.90" width="23.45" height="11.04" fill="#8eaadb"/>
<rect x="601.50" y="350.90" width="23.45" height="11.04" fill="#8eaadb"/>
<rect x="652.20" y="350.90" width="23.45" height="11.04" fill="#8eaadb"/>
<rect x="677.55" y="350.90" width="23.45" height="11.04" fill="#8eaadb"/>
<rect x="728.25" y="350.90" width="23.45" height="11.04" fill="#8eaadb"/>
<rect x="829.65" y="350.90" width="23.45" height="11.04" fill="#8eaadb"/>
<rect x="931.05" y="350.90" width="23.45" height="11.04" fill="#8eaadb"/>
<rect x="1083.15" y="350.90" width="23.45" height="11.04" fill="#8eaadb"/>
<rect x="270.30" y="363.84" width="25.10" height="11.04" fill="#33cc33"/>
<rect x="297.30" y="363.84" width="23.45" height="11.04" fill="#33cc33"/>
<rect x="348.00" y="363.84" width="23.45" height="11.04" fill="#33cc33"/>
<rect x="449.40" y="363.84" width="23.45" height="11.04" fill="#33cc33"/>
<rect x="500.10" y="363.84" width="23.45" height="11.04" fill="#33cc33"/>
<rect x="525.45" y="363.84" width="23.45" height="11.04" fill="#33cc33"/>
<rect x="601.50" y="363.84" width="23.45" height="11.04" fill="#33cc33"/>
<rect x="652.20" y="363.84" width="23.45" height="11.04" fill="#33cc33"/>
<rect x="677.55" y="363.84" width="23.45" height="11.04" fill="#33cc33"/>
<rect x="728.25" y="363.84" width="23.45" height="11.04" fill="#33cc33"/>
<rect x="829.65" y="363.84" width="23.45" height="11.04" fill="#8eaadb"/>
<rect x="931.05" y="363.84" width="23.45" height="11.04" fill="#8eaadb"/>
<rect x="1083.15" y="363.84" width="23.45" height="11.04" fill="#8eaadb"/>
<rect x="270.30" y="376.79" width="25.10" height="11.04" fill="#8eaadb"/>
<rect x="297.30" y="376.79" width="23.45" height="11.04" fill="#8eaadb"/>
<rect x="348.00" y="376.79" width="23.45" height="11.04" fill="#8eaadb"/>
<rect x="449.40" y="376.79" width="23.45" height="11.04" fill="#8eaadb"/>
<rect x="500.10" y="376.79" width="23.45" height="11.04" fill="#8eaadb"/>
<rect x="525.45" y="376.79" width="23.45" height="11.04" fill="#8eaadb"/>
<rect x="601.50" y="376.79" width="23.45" height="11.04" fill="#8eaadb"/>
<rect x="652.20" y="376.79" width="23.45" height="11.04" fill="#8eaadb"/>
<rect x="677.55" y="376.79" width="23.45" height="11.04" fill="#8eaadb"/>
<rect x="728.25" y="376.79" width="23.45" height="11.04" fill="#8eaadb"/>
<rect x="829.65" y="376.79" width="23.45" height="11.04" fill="#8eaadb"/>
<rect x="931.05" y="376.79" width="23.45" height="11.04" fill="#8eaadb"/>
<rect x="1083.15" y="376.79" width="23.45" height="11.04" fill="#8eaadb"/>
<rect x="270.30" y="389.73" width="25.10" height="11.04" fill="#33cc33"/>
<rect x="297.30" y="389.73" width="23.45" height="11.04" fill="#8eaadb"/>
<rect x="348.00" y="389.73" width="23.45" height="11.04" fill="#33cc33"/>
<rect x="449.40" y="389.73" width="23.45" height="11.04" fill="#33cc33"/>
<rect x="500.10" y="389.73" width="23.45" height="11.04" fill="#33cc33"/>
<rect x="525.45" y="389.73" width="23.45" height="11.04" fill="#33cc33"/>
<rect x="601.50" y="389.73" width="23.45" height="11.04" fill="#33cc33"/>
<rect x="652.20" y="389.73" width="23.45" height="11.04" fill="#33cc33"/>
<rect x="677.55" y="389.73" width="23.45" height="11.04" fill="#8eaadb"/>
<rect x="728.25" y="389.73" width="23.45" height="11.04" fill="#8eaadb"/>
<rect x="829.65" y="389.73" width="23.45" height="11.04" fill="#8eaadb"/>
<rect x="931.05" y="389.73" width="23.45" height="11.04" fill="#8eaadb"/>
<rect x="1083.15" y="389.73" width="23.45" height="11.04" fill="#8eaadb"/>
<rect x="270.30" y="402.68" width="25.10" height="11.04" fill="#8eaadb"/>
<rect x="297.30" y="402.68" width="23.45" height="11.04" fill="#8eaadb"/>
<rect x="348.00" y="402.68" width="23.45" height="11.04" fill="#8eaadb"/>
<rect x="449.40" y="402.68" width="23.45" height="11.04" fill="#8eaadb"/>
<rect x="500.10" y="402.68" width="23.45" height="11.04" fill="#8eaadb"/>
<rect x="525.45" y="402.68" width="23.45" height="11.04" fill="#8eaadb"/>
<rect x="601.50" y="402.68" width="23.45" height="11.04" fill="#8eaadb"/>
<rect x="652.20" y="402.68" width="23.45" height="11.04" fill="#8eaadb"/>
<rect x="677.55" y="402.68" width="23.45" height="11.04" fill="#8eaadb"/>
<rect x="728.25" y="402.68" width="23.45" height="11.04" fill="#8eaadb"/>
<rect x="829.65" y="402.68" width="23.45" height="11.04" fill="#8eaadb"/>
<rect x="931.05" y="402.68" width="23.45" height="11.04" fill="#8eaadb"/>
<rect x="1083.15" y="402.68" width="23.45" height="11.04" fill="#8eaadb"/>
<rect x="270.30" y="415.62" width="25.10" height="11.04" fill="#8eaadb"/>
<rect x="297.30" y="415.62" width="23.45" height="11.04" fill="#8eaadb"/>
<rect x="348.00" y="415.62" width="23.45" height="11.04" fill="#8eaadb"/>
<rect x="449.40" y="415.62" width="23.45" height="11.04" fill="#8eaadb"/>
<rect x="500.10" y="415.62" width="23.45" height="11.04" fill="#33cc33"/>
<rect x="525.45" y="415.62" width="23.45" height="11.04" fill="#33cc33"/>
<rect x="601.50" y="415.62" width="23.45" height="11.04" fill="#8eaadb"/>
<rect x="652.20" y="415.62" width="23.45" height="11.04" fill="#8eaadb"/>
<rect x="677.55" y="415.62" width="23.45" height="11.04" fill="#8eaadb"/>
<rect x="728.25" y="415.62" width="23.45" height="11.04" fill="#8eaadb"/>
<rect x="829.65" y="415.62" width="23.45" height="11.04" fill="#8eaadb"/>
<rect x="931.05" y="415.62" width="23.45" height="11.04" fill="#8eaadb"/>
<rect x="1083.15" y="415.62" width="23.45" height="11.04" fill="#33cc33"/>
<rect x="270.30" y="428.56" width="25.10" height="11.04" fill="#8eaadb"/>
<rect x="297.30" y="428.56" width="23.45" height="11.04" fill="#8eaadb"/>
<rect x="348.00" y="428.56" width="23.45" height="11.04" fill="#33cc33"/>
<rect x="449.40" y="428.56" width="23.45" height="11.04" fill="#8eaadb"/>
<rect x="500.10" y="428.56" width="23.45" height="11.04" fill="#33cc33"/>
<rect x="525.45" y="428.56" width="23.45" height="11.04" fill="#8eaadb"/>
<rect x="601.50" y="428.56" width="23.45" height="11.04" fill="#8eaadb"/>
<rect x="652.20" y="428.56" width="23.45" height="11.04" fill="#8eaadb"/>
<rect x="677.55" y="428.56" width="23.45" height="11.04" fill="#33cc33"/>
<rect x="728.25" y="428.56" width="23.45" height="11.04" fill="#8eaadb"/>
<rect x="829.65" y="428.56" width="23.45" height="11.04" fill="#8eaadb"/>
<rect x="931.05" y="428.56" width="23.45" height="11.04" fill="#8eaadb"/>
<rect x="1083.15" y="428.56" width="23.45" height="11.04" fill="#8eaadb"/>
<rect x="270.30" y="441.51" width="25.10" height="11.04" fill="#8eaadb"/>
<rect x="297.30" y="441.51" width="23.45" height="11.04" fill="#8eaadb"/>
<rect x="348.00" y="441.51" width="23.45" height="11.04" fill="#8eaadb"/>
<rect x="449.40" y="441.51" width="23.45" height="11.04" fill="#8eaadb"/>
<rect x="500.10" y="441.51" width="23.45" height="11.04" fill="#8eaadb"/>
<rect x="525.45" y="441.51" width="23.45" height="11.04" fill="#8eaadb"/>
<rect x="601.50" y="441.51" width="23.45" height="11.04" fill="#8eaadb"/>
<rect x="652.20" y="441.51" width="23.45" height="11.04" fill="#8eaadb"/>
<rect x="677.55" y="441.51" width="23.45" height="11.04" fill="#8eaadb"/>
<rect x="728.25" y="441.51" width="23.45" height="11.04" fill="#8eaadb"/>
<rect x="829.65" y="441.51" width="23.45" height="11.04" fill="#8eaadb"/>
<rect x="931.05" y="441.51" width="23.45" height="11.04" fill="#8eaadb"/>
<rect x="1083.15" y="441.51" width="23.45" height="11.04" fill="#8eaadb"/>
<rect x="270.30" y="454.45" width="25.10" height="11.04" fill="#ff0000"/>
<rect x="297.30" y="454.45" width="23.45" height="11.04" fill="#ff0000"/>
<rect x="348.00" y="454.45" width="23.45" height="11.04" fill="#8eaadb"/>
<rect x="449.40" y="454.45" width="23.45" height="11.04" fill="#ff0000"/>
<rect x="500.10" y="454.45" width="23.45" height="11.04" fill="#ff0000"/>
<rect x="525.45" y="454.45" width="23.45" height="11.04" fill="#ff0000"/>
<rect x="601.50" y="454.45" width="23.45" height="11.04" fill="#ff0000"/>
<rect x="652.20" y="454.45" width="23.45" height="11.04" fill="#ff0000"/>
<rect x="677.55" y="454.45" width="23.45" height="11.04" fill="#8eaadb"/>
<rect x="728.25" y="454.45" width="23.45" height="11.04" fill="#8eaadb"/>
<rect x="829.65" y="454.45" width="23.45" height="11.04" fill="#8eaadb"/>
<rect x="931.05" y="454.45" width="23.45" height="11.04" fill="#8eaadb"/>
<rect x="1083.15" y="454.45" width="23.45" height="11.04" fill="#8eaadb"/>
<rect x="270.30" y="467.40" width="25.10" height="11.04" fill="#33cc33"/>
<rect x="297.30" y="467.40" width="23.45" height="11.04" fill="#33cc33"/>
<rect x="348.00" y="467.40" width="23.45" height="11.04" fill="#33cc33"/>
<rect x="449.40" y="467.40" width="23.45" height="11.04" fill="#33cc33"/>
<rect x="500.10" y="467.40" width="23.45" height="11.04" fill="#33cc33"/>
<rect x="525.45" y="467.40" width="23.45" height="11.04" fill="#33cc33"/>
<rect x="601.50" y="467.40" width="23.45" height="11.04" fill="#33cc33"/>
<rect x="652.20" y="467.40" width="23.45" height="11.04" fill="#33cc33"/>
<rect x="677.55" y="467.40" width="23.45" height="11.04" fill="#33cc33"/>
<rect x="728.25" y="467.40" width="23.45" height="11.04" fill="#33cc33"/>
<rect x="829.65" y="467.40" width="23.45" height="11.04" fill="#8eaadb"/>
<rect x="931.05" y="467.40" width="23.45" height="11.04" fill="#8eaadb"/>
<rect x="1083.15" y="467.40" width="23.45" height="11.04" fill="#8eaadb"/>
<rect x="270.30" y="480.34" width="25.10" height="11.04" fill="#33cc33"/>
<rect x="297.30" y="480.34" width="23.45" height="11.04" fill="#33cc33"/>
<rect x="348.00" y="480.34" width="23.45" height="11.04" fill="#33cc33"/>
<rect x="449.40" y="480.34" width="23.45" height="11.04" fill="#8eaadb"/>
<rect x="500.10" y="480.34" width="23.45" height="11.04" fill="#33cc33"/>
<rect x="525.45" y="480.34" width="23.45" height="11.04" fill="#8eaadb"/>
<rect x="601.50" y="480.34" width="23.45" height="11.04" fill="#33cc33"/>
<rect x="652.20" y="480.34" width="23.45" height="11.04" fill="#33cc33"/>
<rect x="677.55" y="480.34" width="23.45" height="11.04" fill="#8eaadb"/>
<rect x="728.25" y="480.34" width="23.45" height="11.04" fill="#8eaadb"/>
<rect x="829.65" y="480.34" width="23.45" height="11.04" fill="#8eaadb"/>
<rect x="931.05" y="480.34" width="23.45" height="11.04" fill="#8eaadb"/>
<rect x="1083.15" y="480.34" width="23.45" height="11.04" fill="#8eaadb"/>
<rect x="270.30" y="493.28" width="25.10" height="11.04" fill="#33cc33"/>
<rect x="297.30" y="493.28" width="23.45" height="11.04" fill="#33cc33"/>
<rect x="348.00" y="493.28" width="23.45" height="11.04" fill="#8eaadb"/>
<rect x="270.30" y="506.23" width="25.10" height="11.04" fill="#8eaadb"/>
<rect x="297.30" y="506.23" width="23.45" height="11.04" fill="#33cc33"/>
<rect x="348.00" y="506.23" width="23.45" height="11.04" fill="#8eaadb"/>
<rect x="270.30" y="519.17" width="25.10" height="11.04" fill="#33cc33"/>
<rect x="297.30" y="519.17" width="23.45" height="11.04" fill="#33cc33"/>
<rect x="348.00" y="519.17" width="23.45" height="11.04" fill="#33cc33"/>
<rect x="270.30" y="532.12" width="25.10" height="11.04" fill="#ff0000"/>
<rect x="297.30" y="532.12" width="23.45" height="11.04" fill="#ff0000"/>
<rect x="348.00" y="532.12" width="23.45" height="11.04" fill="#ff0000"/>
<rect x="348.00" y="545.06" width="23.45" height="11.04" fill="#ff0000"/>
<rect x="728.25" y="545.06" width="23.45" height="11.04" fill="#ff0000"/>
<rect x="829.65" y="545.06" width="23.45" height="11.04" fill="#ff0000"/>
<rect x="1083.15" y="545.06" width="23.45" height="11.04" fill="#33cc33"/>
<rect x="270.30" y="558.00" width="25.10" height="11.04" fill="#ff0000"/>
<rect x="297.30" y="558.00" width="23.45" height="11.04" fill="#ff0000"/>
<rect x="449.40" y="558.00" width="23.45" height="11.04" fill="#ff0000"/>
<rect x="500.10" y="558.00" width="23.45" height="11.04" fill="#ff0000"/>
<rect x="525.45" y="558.00" width="23.45" height="11.04" fill="#ff0000"/>
<rect x="601.50" y="558.00" width="23.45" height="11.04" fill="#ff0000"/>
<rect x="652.20" y="558.00" width="23.45" height="11.04" fill="#ff0000"/>
<rect x="677.55" y="558.00" width="23.45" height="11.04" fill="#ff0000"/>
<rect x="728.25" y="558.00" width="23.45" height="11.04" fill="#ff0000"/>
<rect x="829.65" y="558.00" width="23.45" height="11.04" fill="#8eaadb"/>
<rect x="931.05" y="558.00" width="23.45" height="11.04" fill="#8eaadb"/>
<rect x="1083.15" y="558.00" width="23.45" height="11.04" fill="#8eaadb"/>
<rect x="270.30" y="570.95" width="25.10" height="11.04" fill="#8eaadb"/>
<rect x="449.40" y="570.95" width="23.45" height="11.04" fill="#ff0000"/>
<rect x="500.10" y="570.95" width="23.45" height="11.04" fill="#ff0000"/>
<rect x="601.50" y="570.95" width="23.45" height="11.04" fill="#ff0000"/>
<rect x="728.25" y="570.95" width="23.45" height="11.04" fill="#8eaadb"/>
<rect x="931.05" y="570.95" width="23.45" height="11.04" fill="#8eaadb"/>
<rect x="1083.15" y="570.95" width="23.45" height="11.04" fill="#8eaadb"/>
<rect x="652.20" y="583.89" width="23.45" height="11.04" fill="#ff0000"/>
<rect x="728.25" y="583.89" width="23.45" height="11.04" fill="#ff0000"/>
<rect x="449.40" y="596.84" width="23.45" height="11.04" fill="#8eaadb"/>
<rect x="728.25" y="596.84" width="23.45" height="11.04" fill="#33cc33"/>
<rect x="829.65" y="596.84" width="23.45" height="11.04" fill="#8eaadb"/>
<rect x="931.05" y="596.84" width="23.45" height="11.04" fill="#8eaadb"/>
<rect x="1083.15" y="596.84" width="23.45" height="11.04" fill="#8eaadb"/>
<rect x="449.40" y="609.78" width="23.45" height="11.04" fill="#33cc33"/>
<rect x="728.25" y="609.78" width="23.45" height="11.04" fill="#33cc33"/>
<rect x="829.65" y="609.78" width="23.45" height="11.04" fill="#8eaadb"/>
<rect x="931.05" y="609.78" width="23.45" height="11.04" fill="#8eaadb"/>
<rect x="1083.15" y="609.78" width="23.45" height="11.04" fill="#8eaadb"/>
<rect x="449.40" y="622.72" width="23.45" height="11.04" fill="#8eaadb"/>
<rect x="728.25" y="622.72" width="23.45" height="11.04" fill="#8eaadb"/>
<rect x="829.65" y="622.72" width="23.45" height="11.04" fill="#ff0000"/>
<rect x="449.40" y="635.67" width="23.45" height="11.04" fill="#8eaadb"/>
<rect x="728.25" y="635.67" width="23.45" height="11.04" fill="#8eaadb"/>
<rect x="829.65" y="635.67" width="23.45" height="11.04" fill="#ff0000"/>
<rect x="931.05" y="635.67" width="23.45" height="11.04" fill="#8eaadb"/>
<rect x="1083.15" y="635.67" width="23.45" height="11.04" fill="#8eaadb"/>
<rect x="449.40" y="648.61" width="23.45" height="11.04" fill="#ff0000"/>
<rect x="728.25" y="648.61" width="23.45" height="11.04" fill="#ff0000"/>
<rect x="931.05" y="648.61" width="23.45" height="11.04" fill="#8eaadb"/>
<rect x="1083.15" y="648.61" width="23.45" height="11.04" fill="#33cc33"/>
<rect x="449.40" y="661.56" width="23.45" height="11.04" fill="#33cc33"/>
<rect x="728.25" y="661.56" width="23.45" height="11.04" fill="#33cc33"/>
<rect x="829.65" y="661.56" width="23.45" height="11.04" fill="#8eaadb"/>
<rect x="931.05" y="661.56" width="23.45" height="11.04" fill="#8eaadb"/>
<rect x="1083.15" y="661.56" width="23.45" height="11.04" fill="#8eaadb"/>
<rect x="449.40" y="674.50" width="23.45" height="11.04" fill="#8eaadb"/>
<rect x="829.65" y="674.50" width="23.45" height="11.04" fill="#8eaadb"/>
<rect x="931.05" y="674.50" width="23.45" height="11.04" fill="#8eaadb"/>
<rect x="1083.15" y="674.50" width="23.45" height="11.04" fill="#8eaadb"/>
<rect x="449.40" y="687.44" width="23.45" height="11.04" fill="#8eaadb"/>
<rect x="829.65" y="687.44" width="23.45" height="11.04" fill="#8eaadb"/>
<rect x="931.05" y="687.44" width="23.45" height="11.04" fill="#8eaadb"/>
<rect x="1083.15" y="687.44" width="23.45" height="11.04" fill="#8eaadb"/>
<rect x="270.30" y="700.39" width="25.10" height="11.04" fill="#8eaadb"/>
<rect x="525.45" y="700.39" width="23.45" height="11.04" fill="#8eaadb"/>
<rect x="728.25" y="700.39" width="23.45" height="11.04" fill="#8eaadb"/>
<rect x="270.30" y="713.33" width="25.10" height="11.04" fill="#33cc33"/>
<rect x="525.45" y="726.28" width="23.45" height="11.04" fill="#8eaadb"/>
<rect x="728.25" y="726.28" width="23.45" height="11.04" fill="#8eaadb"/>
<rect x="270.30" y="739.22" width="25.10" height="11.04" fill="#ff0000"/>
<rect x="525.45" y="739.22" width="23.45" height="11.04" fill="#ff0000"/>
<rect x="728.25" y="739.22" width="23.45" height="11.04" fill="#ff0000"/>
<rect x="270.30" y="752.16" width="25.10" height="11.04" fill="#ff0000"/>
<rect x="525.45" y="752.16" width="23.45" height="11.04" fill="#ff0000"/>
<rect x="728.25" y="752.16" width="23.45" height="11.04" fill="#ff0000"/>
<rect x="449.40" y="765.11" width="23.45" height="11.04" fill="#33cc33"/>
<rect x="728.25" y="765.11" width="23.45" height="11.04" fill="#8eaadb"/>
<rect x="829.65" y="765.11" width="23.45" height="11.04" fill="#8eaadb"/>
<rect x="449.40" y="778.05" width="23.45" height="11.04" fill="#33cc33"/>
<rect x="728.25" y="778.05" width="23.45" height="11.04" fill="#33cc33"/>
<rect x="829.65" y="778.05" width="23.45" height="11.04" fill="#33cc33"/>
<rect x="270.30" y="791.00" width="25.10" height="11.04" fill="#ff0000"/>
<rect x="728.25" y="803.94" width="23.45" height="11.04" fill="#8eaadb"/>
<rect x="270.30" y="349.00" width="888.90" height="1.9" fill="#000"/>
<rect x="270.30" y="361.94" width="888.90" height="1.9" fill="#000"/>
<rect x="270.30" y="374.89" width="888.90" height="1.9" fill="#000"/>
<rect x="270.30" y="387.83" width="888.90" height="1.9" fill="#000"/>
<rect x="270.30" y="400.78" width="888.90" height="1.9" fill="#000"/>
<rect x="270.30" y="413.72" width="888.90" height="1.9" fill="#000"/>
<rect x="270.30" y="426.66" width="888.90" height="1.9" fill="#000"/>
<rect x="270.30" y="439.61" width="888.90" height="1.9" fill="#000"/>
<rect x="270.30" y="452.55" width="888.90" height="1.9" fill="#000"/>
<rect x="270.30" y="465.50" width="888.90" height="1.9" fill="#000"/>
<rect x="270.30" y="478.44" width="888.90" height="1.9" fill="#000"/>
<rect x="270.30" y="491.38" width="888.90" height="1.9" fill="#000"/>
<rect x="270.30" y="504.33" width="888.90" height="1.9" fill="#000"/>
<rect x="270.30" y="517.27" width="888.90" height="1.9" fill="#000"/>
<rect x="270.30" y="530.22" width="888.90" height="1.9" fill="#000"/>
<rect x="270.30" y="543.16" width="888.90" height="1.9" fill="#000"/>
<rect x="270.30" y="556.10" width="888.90" height="1.9" fill="#000"/>
<rect x="270.30" y="569.05" width="888.90" height="1.9" fill="#000"/>
<rect x="270.30" y="581.99" width="888.90" height="1.9" fill="#000"/>
<rect x="270.30" y="594.94" width="888.90" height="1.9" fill="#000"/>
<rect x="270.30" y="607.88" width="888.90" height="1.9" fill="#000"/>
<rect x="270.30" y="620.82" width="888.90" height="1.9" fill="#000"/>
<rect x="270.30" y="633.77" width="888.90" height="1.9" fill="#000"/>
<rect x="270.30" y="646.71" width="888.90" height="1.9" fill="#000"/>
<rect x="270.30" y="659.66" width="888.90" height="1.9" fill="#000"/>
<rect x="270.30" y="672.60" width="888.90" height="1.9" fill="#000"/>
<rect x="270.30" y="685.54" width="888.90" height="1.9" fill="#000"/>
<rect x="270.30" y="698.49" width="888.90" height="1.9" fill="#000"/>
<rect x="270.30" y="711.43" width="888.90" height="1.9" fill="#000"/>
<rect x="270.30" y="724.38" width="888.90" height="1.9" fill="#000"/>
<rect x="270.30" y="737.32" width="888.90" height="1.9" fill="#000"/>
<rect x="270.30" y="750.26" width="888.90" height="1.9" fill="#000"/>
<rect x="270.30" y="763.21" width="888.90" height="1.9" fill="#000"/>
<rect x="270.30" y="776.15" width="888.90" height="1.9" fill="#000"/>
<rect x="270.30" y="789.10" width="888.90" height="1.9" fill="#000"/>
<rect x="270.30" y="802.04" width="888.90" height="1.9" fill="#000"/>
<rect x="270.30" y="814.98" width="888.90" height="1.9" fill="#000"/>
<rect x="295.40" y="349.00" width="1.9" height="467.88" fill="#000"/>
<rect x="320.75" y="349.00" width="1.9" height="467.88" fill="#000"/>
<rect x="346.10" y="349.00" width="1.9" height="467.88" fill="#000"/>
<rect x="371.45" y="349.00" width="1.9" height="467.88" fill="#000"/>
<rect x="396.80" y="349.00" width="1.9" height="467.88" fill="#000"/>
<rect x="422.15" y="349.00" width="1.9" height="467.88" fill="#000"/>
<rect x="447.50" y="349.00" width="1.9" height="467.88" fill="#000"/>
<rect x="472.85" y="349.00" width="1.9" height="467.88" fill="#000"/>
<rect x="498.20" y="349.00" width="1.9" height="467.88" fill="#000"/>
<rect x="523.55" y="349.00" width="1.9" height="467.88" fill="#000"/>
<rect x="548.90" y="349.00" width="1.9" height="467.88" fill="#000"/>
<rect x="574.25" y="349.00" width="1.9" height="467.88" fill="#000"/>
<rect x="599.60" y="349.00" width="1.9" height="467.88" fill="#000"/>
<rect x="624.95" y="349.00" width="1.9" height="467.88" fill="#000"/>
<rect x="650.30" y="349.00" width="1.9" height="467.88" fill="#000"/>
<rect x="675.65" y="349.00" width="1.9" height="467.88" fill="#000"/>
<rect x="701.00" y="349.00" width="1.9" height="467.88" fill="#000"/>
<rect x="726.35" y="349.00" width="1.9" height="467.88" fill="#000"/>
<rect x="751.70" y="349.00" width="1.9" height="467.88" fill="#000"/>
<rect x="777.05" y="349.00" width="1.9" height="467.88" fill="#000"/>
<rect x="802.40" y="349.00" width="1.9" height="467.88" fill="#000"/>
<rect x="827.75" y="349.00" width="1.9" height="467.88" fill="#000"/>
<rect x="853.10" y="349.00" width="1.9" height="467.88" fill="#000"/>
<rect x="878.45" y="349.00" width="1.9" height="467.88" fill="#000"/>
<rect x="903.80" y="349.00" width="1.9" height="467.88" fill="#000"/>
<rect x="929.15" y="349.00" width="1.9" height="467.88" fill="#000"/>
<rect x="954.50" y="349.00" width="1.9" height="467.88" fill="#000"/>
<rect x="979.85" y="349.00" width="1.9" height="467.88" fill="#000"/>
<rect x="1005.20" y="349.00" width="1.9" height="467.88" fill="#000"/>
<rect x="1030.55" y="349.00" width="1.9" height="467.88" fill="#000"/>
<rect x="1055.90" y="349.00" width="1.9" height="467.88" fill="#000"/>
<rect x="1081.25" y="349.00" width="1.9" height="467.88" fill="#000"/>
<rect x="1106.60" y="349.00" width="1.9" height="467.88" fill="#000"/>
<rect x="1131.95" y="349.00" width="1.9" height="467.88" fill="#000"/>
<rect x="1157.30" y="349.00" width="1.9" height="467.88" fill="#000"/>
<path d="M282.85,351.90V359.94" stroke="#105a10" stroke-width="0.75"/>
<path d="M281.15,358.14L284.55,358.14L282.85,360.94Z" fill="#105a10"/>
<text x="309.02" y="359.34" text-anchor="middle" style="font-family:'Liberation Sans', sans-serif;font-size:9.9px;fill:#0f1c40;stroke:#0f1c40;stroke-width:0.12px">N</text>
<path d="M359.72,351.90V359.94" stroke="#105a10" stroke-width="0.75"/>
<path d="M358.02,358.14L361.42,358.14L359.72,360.94Z" fill="#105a10"/>
<text x="461.12" y="359.34" text-anchor="middle" style="font-family:'Liberation Sans', sans-serif;font-size:9.9px;fill:#0f1c40;stroke:#0f1c40;stroke-width:0.12px">N</text>
<text x="511.82" y="359.34" text-anchor="middle" style="font-family:'Liberation Sans', sans-serif;font-size:9.9px;fill:#0f1c40;stroke:#0f1c40;stroke-width:0.12px">N</text>
<text x="537.17" y="359.34" text-anchor="middle" style="font-family:'Liberation Sans', sans-serif;font-size:9.9px;fill:#0f1c40;stroke:#0f1c40;stroke-width:0.12px">N</text>
<text x="613.22" y="359.34" text-anchor="middle" style="font-family:'Liberation Sans', sans-serif;font-size:9.9px;fill:#0f1c40;stroke:#0f1c40;stroke-width:0.12px">N</text>
<text x="663.92" y="359.34" text-anchor="middle" style="font-family:'Liberation Sans', sans-serif;font-size:9.9px;fill:#0f1c40;stroke:#0f1c40;stroke-width:0.12px">N</text>
<text x="689.27" y="359.34" text-anchor="middle" style="font-family:'Liberation Sans', sans-serif;font-size:9.9px;fill:#0f1c40;stroke:#0f1c40;stroke-width:0.12px">N</text>
<text x="739.97" y="359.34" text-anchor="middle" style="font-family:'Liberation Sans', sans-serif;font-size:9.9px;fill:#0f1c40;stroke:#0f1c40;stroke-width:0.12px">N</text>
<text x="841.38" y="359.34" text-anchor="middle" style="font-family:'Liberation Sans', sans-serif;font-size:9.9px;fill:#0f1c40;stroke:#0f1c40;stroke-width:0.12px">N</text>
<text x="942.77" y="359.34" text-anchor="middle" style="font-family:'Liberation Sans', sans-serif;font-size:9.9px;fill:#0f1c40;stroke:#0f1c40;stroke-width:0.12px">N</text>
<text x="1094.88" y="359.34" text-anchor="middle" style="font-family:'Liberation Sans', sans-serif;font-size:9.9px;fill:#0f1c40;stroke:#0f1c40;stroke-width:0.12px">N</text>
<path d="M282.85,364.84V372.89" stroke="#105a10" stroke-width="0.75"/>
<path d="M281.15,371.09L284.55,371.09L282.85,373.89Z" fill="#105a10"/>
<path d="M309.02,364.84V372.89" stroke="#105a10" stroke-width="0.75"/>
<path d="M307.32,371.09L310.72,371.09L309.02,373.89Z" fill="#105a10"/>
<path d="M359.72,364.84V372.89" stroke="#105a10" stroke-width="0.75"/>
<path d="M358.02,371.09L361.42,371.09L359.72,373.89Z" fill="#105a10"/>
<path d="M461.12,364.84V372.89" stroke="#105a10" stroke-width="0.75"/>
<path d="M459.43,371.09L462.82,371.09L461.12,373.89Z" fill="#105a10"/>
<path d="M511.82,364.84V372.89" stroke="#105a10" stroke-width="0.75"/>
<path d="M510.12,371.09L513.52,371.09L511.82,373.89Z" fill="#105a10"/>
<path d="M537.17,364.84V372.89" stroke="#105a10" stroke-width="0.75"/>
<path d="M535.47,371.09L538.88,371.09L537.17,373.89Z" fill="#105a10"/>
<path d="M613.22,364.84V372.89" stroke="#105a10" stroke-width="0.75"/>
<path d="M611.52,371.09L614.92,371.09L613.22,373.89Z" fill="#105a10"/>
<path d="M663.92,364.84V372.89" stroke="#105a10" stroke-width="0.75"/>
<path d="M662.22,371.09L665.62,371.09L663.92,373.89Z" fill="#105a10"/>
<path d="M689.27,364.84V372.89" stroke="#105a10" stroke-width="0.75"/>
<path d="M687.57,371.09L690.98,371.09L689.27,373.89Z" fill="#105a10"/>
<path d="M739.97,364.84V372.89" stroke="#105a10" stroke-width="0.75"/>
<path d="M738.27,371.09L741.67,371.09L739.97,373.89Z" fill="#105a10"/>
<text x="841.38" y="372.29" text-anchor="middle" style="font-family:'Liberation Sans', sans-serif;font-size:9.9px;fill:#0f1c40;stroke:#0f1c40;stroke-width:0.12px">N</text>
<text x="942.77" y="372.29" text-anchor="middle" style="font-family:'Liberation Sans', sans-serif;font-size:9.9px;fill:#0f1c40;stroke:#0f1c40;stroke-width:0.12px">N</text>
<text x="1094.88" y="372.29" text-anchor="middle" style="font-family:'Liberation Sans', sans-serif;font-size:9.9px;fill:#0f1c40;stroke:#0f1c40;stroke-width:0.12px">N</text>
<text x="282.85" y="385.23" text-anchor="middle" style="font-family:'Liberation Sans', sans-serif;font-size:9.9px;fill:#0f1c40;stroke:#0f1c40;stroke-width:0.12px">N</text>
<text x="309.02" y="385.23" text-anchor="middle" style="font-family:'Liberation Sans', sans-serif;font-size:9.9px;fill:#0f1c40;stroke:#0f1c40;stroke-width:0.12px">N</text>
<text x="359.72" y="385.23" text-anchor="middle" style="font-family:'Liberation Sans', sans-serif;font-size:9.9px;fill:#0f1c40;stroke:#0f1c40;stroke-width:0.12px">N</text>
<text x="461.12" y="385.23" text-anchor="middle" style="font-family:'Liberation Sans', sans-serif;font-size:9.9px;fill:#0f1c40;stroke:#0f1c40;stroke-width:0.12px">N</text>
<text x="511.82" y="385.23" text-anchor="middle" style="font-family:'Liberation Sans', sans-serif;font-size:9.9px;fill:#0f1c40;stroke:#0f1c40;stroke-width:0.12px">N</text>
<text x="537.17" y="385.23" text-anchor="middle" style="font-family:'Liberation Sans', sans-serif;font-size:9.9px;fill:#0f1c40;stroke:#0f1c40;stroke-width:0.12px">N</text>
<text x="613.22" y="385.23" text-anchor="middle" style="font-family:'Liberation Sans', sans-serif;font-size:9.9px;fill:#0f1c40;stroke:#0f1c40;stroke-width:0.12px">N</text>
<text x="663.92" y="385.23" text-anchor="middle" style="font-family:'Liberation Sans', sans-serif;font-size:9.9px;fill:#0f1c40;stroke:#0f1c40;stroke-width:0.12px">N</text>
<text x="689.27" y="385.23" text-anchor="middle" style="font-family:'Liberation Sans', sans-serif;font-size:9.9px;fill:#0f1c40;stroke:#0f1c40;stroke-width:0.12px">N</text>
<text x="739.97" y="385.23" text-anchor="middle" style="font-family:'Liberation Sans', sans-serif;font-size:9.9px;fill:#0f1c40;stroke:#0f1c40;stroke-width:0.12px">N</text>
<text x="841.38" y="385.23" text-anchor="middle" style="font-family:'Liberation Sans', sans-serif;font-size:9.9px;fill:#0f1c40;stroke:#0f1c40;stroke-width:0.12px">N</text>
<text x="942.77" y="385.23" text-anchor="middle" style="font-family:'Liberation Sans', sans-serif;font-size:9.9px;fill:#0f1c40;stroke:#0f1c40;stroke-width:0.12px">N</text>
<text x="1094.88" y="385.23" text-anchor="middle" style="font-family:'Liberation Sans', sans-serif;font-size:9.9px;fill:#0f1c40;stroke:#0f1c40;stroke-width:0.12px">N</text>
<path d="M282.85,390.73V398.78" stroke="#105a10" stroke-width="0.75"/>
<path d="M281.15,396.98L284.55,396.98L282.85,399.78Z" fill="#105a10"/>
<text x="309.02" y="398.18" text-anchor="middle" style="font-family:'Liberation Sans', sans-serif;font-size:9.9px;fill:#0f1c40;stroke:#0f1c40;stroke-width:0.12px">N</text>
<path d="M359.72,390.73V398.78" stroke="#105a10" stroke-width="0.75"/>
<path d="M358.02,396.98L361.42,396.98L359.72,399.78Z" fill="#105a10"/>
<path d="M461.12,390.73V398.78" stroke="#105a10" stroke-width="0.75"/>
<path d="M459.43,396.98L462.82,396.98L461.12,399.78Z" fill="#105a10"/>
<path d="M511.82,390.73V398.78" stroke="#105a10" stroke-width="0.75"/>
<path d="M510.12,396.98L513.52,396.98L511.82,399.78Z" fill="#105a10"/>
<path d="M537.17,390.73V398.78" stroke="#105a10" stroke-width="0.75"/>
<path d="M535.47,396.98L538.88,396.98L537.17,399.78Z" fill="#105a10"/>
<path d="M613.22,390.73V398.78" stroke="#105a10" stroke-width="0.75"/>
<path d="M611.52,396.98L614.92,396.98L613.22,399.78Z" fill="#105a10"/>
<path d="M663.92,390.73V398.78" stroke="#105a10" stroke-width="0.75"/>
<path d="M662.22,396.98L665.62,396.98L663.92,399.78Z" fill="#105a10"/>
<text x="689.27" y="398.18" text-anchor="middle" style="font-family:'Liberation Sans', sans-serif;font-size:9.9px;fill:#0f1c40;stroke:#0f1c40;stroke-width:0.12px">N</text>
<text x="739.97" y="398.18" text-anchor="middle" style="font-family:'Liberation Sans', sans-serif;font-size:9.9px;fill:#0f1c40;stroke:#0f1c40;stroke-width:0.12px">N</text>
<text x="841.38" y="398.18" text-anchor="middle" style="font-family:'Liberation Sans', sans-serif;font-size:9.9px;fill:#0f1c40;stroke:#0f1c40;stroke-width:0.12px">N</text>
<text x="942.77" y="398.18" text-anchor="middle" style="font-family:'Liberation Sans', sans-serif;font-size:9.9px;fill:#0f1c40;stroke:#0f1c40;stroke-width:0.12px">N</text>
<text x="1094.88" y="398.18" text-anchor="middle" style="font-family:'Liberation Sans', sans-serif;font-size:9.9px;fill:#0f1c40;stroke:#0f1c40;stroke-width:0.12px">N</text>
<text x="282.85" y="411.12" text-anchor="middle" style="font-family:'Liberation Sans', sans-serif;font-size:9.9px;fill:#0f1c40;stroke:#0f1c40;stroke-width:0.12px">N</text>
<text x="309.02" y="411.12" text-anchor="middle" style="font-family:'Liberation Sans', sans-serif;font-size:9.9px;fill:#0f1c40;stroke:#0f1c40;stroke-width:0.12px">N</text>
<text x="359.72" y="411.12" text-anchor="middle" style="font-family:'Liberation Sans', sans-serif;font-size:9.9px;fill:#0f1c40;stroke:#0f1c40;stroke-width:0.12px">N</text>
<text x="461.12" y="411.12" text-anchor="middle" style="font-family:'Liberation Sans', sans-serif;font-size:9.9px;fill:#0f1c40;stroke:#0f1c40;stroke-width:0.12px">N</text>
<text x="511.82" y="411.12" text-anchor="middle" style="font-family:'Liberation Sans', sans-serif;font-size:9.9px;fill:#0f1c40;stroke:#0f1c40;stroke-width:0.12px">N</text>
<text x="537.17" y="411.12" text-anchor="middle" style="font-family:'Liberation Sans', sans-serif;font-size:9.9px;fill:#0f1c40;stroke:#0f1c40;stroke-width:0.12px">N</text>
<text x="613.22" y="411.12" text-anchor="middle" style="font-family:'Liberation Sans', sans-serif;font-size:9.9px;fill:#0f1c40;stroke:#0f1c40;stroke-width:0.12px">N</text>
<text x="663.92" y="411.12" text-anchor="middle" style="font-family:'Liberation Sans', sans-serif;font-size:9.9px;fill:#0f1c40;stroke:#0f1c40;stroke-width:0.12px">N</text>
<text x="689.27" y="411.12" text-anchor="middle" style="font-family:'Liberation Sans', sans-serif;font-size:9.9px;fill:#0f1c40;stroke:#0f1c40;stroke-width:0.12px">N</text>
<text x="739.97" y="411.12" text-anchor="middle" style="font-family:'Liberation Sans', sans-serif;font-size:9.9px;fill:#0f1c40;stroke:#0f1c40;stroke-width:0.12px">N</text>
<text x="841.38" y="411.12" text-anchor="middle" style="font-family:'Liberation Sans', sans-serif;font-size:9.9px;fill:#0f1c40;stroke:#0f1c40;stroke-width:0.12px">N</text>
<text x="942.77" y="411.12" text-anchor="middle" style="font-family:'Liberation Sans', sans-serif;font-size:9.9px;fill:#0f1c40;stroke:#0f1c40;stroke-width:0.12px">N</text>
<text x="1094.88" y="411.12" text-anchor="middle" style="font-family:'Liberation Sans', sans-serif;font-size:9.9px;fill:#0f1c40;stroke:#0f1c40;stroke-width:0.12px">N</text>
<text x="282.85" y="424.06" text-anchor="middle" style="font-family:'Liberation Sans', sans-serif;font-size:9.9px;fill:#0f1c40;stroke:#0f1c40;stroke-width:0.12px">N</text>
<text x="309.02" y="424.06" text-anchor="middle" style="font-family:'Liberation Sans', sans-serif;font-size:9.9px;fill:#0f1c40;stroke:#0f1c40;stroke-width:0.12px">N</text>
<text x="359.72" y="424.06" text-anchor="middle" style="font-family:'Liberation Sans', sans-serif;font-size:9.9px;fill:#0f1c40;stroke:#0f1c40;stroke-width:0.12px">N</text>
<text x="461.12" y="424.06" text-anchor="middle" style="font-family:'Liberation Sans', sans-serif;font-size:9.9px;fill:#0f1c40;stroke:#0f1c40;stroke-width:0.12px">N</text>
<path d="M511.82,416.62V424.66" stroke="#105a10" stroke-width="0.75"/>
<path d="M510.12,422.86L513.52,422.86L511.82,425.66Z" fill="#105a10"/>
<path d="M537.17,416.62V424.66" stroke="#105a10" stroke-width="0.75"/>
<path d="M535.47,422.86L538.88,422.86L537.17,425.66Z" fill="#105a10"/>
<text x="613.22" y="424.06" text-anchor="middle" style="font-family:'Liberation Sans', sans-serif;font-size:9.9px;fill:#0f1c40;stroke:#0f1c40;stroke-width:0.12px">N</text>
<text x="663.92" y="424.06" text-anchor="middle" style="font-family:'Liberation Sans', sans-serif;font-size:9.9px;fill:#0f1c40;stroke:#0f1c40;stroke-width:0.12px">N</text>
<text x="689.27" y="424.06" text-anchor="middle" style="font-family:'Liberation Sans', sans-serif;font-size:9.9px;fill:#0f1c40;stroke:#0f1c40;stroke-width:0.12px">N</text>
<text x="739.97" y="424.06" text-anchor="middle" style="font-family:'Liberation Sans', sans-serif;font-size:9.9px;fill:#0f1c40;stroke:#0f1c40;stroke-width:0.12px">N</text>
<text x="841.38" y="424.06" text-anchor="middle" style="font-family:'Liberation Sans', sans-serif;font-size:9.9px;fill:#0f1c40;stroke:#0f1c40;stroke-width:0.12px">N</text>
<text x="942.77" y="424.06" text-anchor="middle" style="font-family:'Liberation Sans', sans-serif;font-size:9.9px;fill:#0f1c40;stroke:#0f1c40;stroke-width:0.12px">N</text>
<path d="M1094.88,416.62V424.66" stroke="#105a10" stroke-width="0.75"/>
<path d="M1093.17,422.86L1096.58,422.86L1094.88,425.66Z" fill="#105a10"/>
<text x="282.85" y="437.01" text-anchor="middle" style="font-family:'Liberation Sans', sans-serif;font-size:9.9px;fill:#0f1c40;stroke:#0f1c40;stroke-width:0.12px">N</text>
<text x="309.02" y="437.01" text-anchor="middle" style="font-family:'Liberation Sans', sans-serif;font-size:9.9px;fill:#0f1c40;stroke:#0f1c40;stroke-width:0.12px">N</text>
<path d="M359.72,429.56V437.61" stroke="#105a10" stroke-width="0.75"/>
<path d="M358.02,435.81L361.42,435.81L359.72,438.61Z" fill="#105a10"/>
<text x="461.12" y="437.01" text-anchor="middle" style="font-family:'Liberation Sans', sans-serif;font-size:9.9px;fill:#0f1c40;stroke:#0f1c40;stroke-width:0.12px">N</text>
<path d="M511.82,429.56V437.61" stroke="#105a10" stroke-width="0.75"/>
<path d="M510.12,435.81L513.52,435.81L511.82,438.61Z" fill="#105a10"/>
<text x="537.17" y="437.01" text-anchor="middle" style="font-family:'Liberation Sans', sans-serif;font-size:9.9px;fill:#0f1c40;stroke:#0f1c40;stroke-width:0.12px">N</text>
<text x="613.22" y="437.01" text-anchor="middle" style="font-family:'Liberation Sans', sans-serif;font-size:9.9px;fill:#0f1c40;stroke:#0f1c40;stroke-width:0.12px">N</text>
<text x="663.92" y="437.01" text-anchor="middle" style="font-family:'Liberation Sans', sans-serif;font-size:9.9px;fill:#0f1c40;stroke:#0f1c40;stroke-width:0.12px">N</text>
<path d="M689.27,429.56V437.61" stroke="#105a10" stroke-width="0.75"/>
<path d="M687.57,435.81L690.98,435.81L689.27,438.61Z" fill="#105a10"/>
<text x="739.97" y="437.01" text-anchor="middle" style="font-family:'Liberation Sans', sans-serif;font-size:9.9px;fill:#0f1c40;stroke:#0f1c40;stroke-width:0.12px">N</text>
<text x="841.38" y="437.01" text-anchor="middle" style="font-family:'Liberation Sans', sans-serif;font-size:9.9px;fill:#0f1c40;stroke:#0f1c40;stroke-width:0.12px">N</text>
<text x="942.77" y="437.01" text-anchor="middle" style="font-family:'Liberation Sans', sans-serif;font-size:9.9px;fill:#0f1c40;stroke:#0f1c40;stroke-width:0.12px">N</text>
<text x="1094.88" y="437.01" text-anchor="middle" style="font-family:'Liberation Sans', sans-serif;font-size:9.9px;fill:#0f1c40;stroke:#0f1c40;stroke-width:0.12px">N</text>
<text x="282.85" y="449.95" text-anchor="middle" style="font-family:'Liberation Sans', sans-serif;font-size:9.9px;fill:#0f1c40;stroke:#0f1c40;stroke-width:0.12px">N</text>
<text x="309.02" y="449.95" text-anchor="middle" style="font-family:'Liberation Sans', sans-serif;font-size:9.9px;fill:#0f1c40;stroke:#0f1c40;stroke-width:0.12px">N</text>
<text x="359.72" y="449.95" text-anchor="middle" style="font-family:'Liberation Sans', sans-serif;font-size:9.9px;fill:#0f1c40;stroke:#0f1c40;stroke-width:0.12px">N</text>
<text x="461.12" y="449.95" text-anchor="middle" style="font-family:'Liberation Sans', sans-serif;font-size:9.9px;fill:#0f1c40;stroke:#0f1c40;stroke-width:0.12px">N</text>
<text x="511.82" y="449.95" text-anchor="middle" style="font-family:'Liberation Sans', sans-serif;font-size:9.9px;fill:#0f1c40;stroke:#0f1c40;stroke-width:0.12px">N</text>
<text x="537.17" y="449.95" text-anchor="middle" style="font-family:'Liberation Sans', sans-serif;font-size:9.9px;fill:#0f1c40;stroke:#0f1c40;stroke-width:0.12px">N</text>
<text x="613.22" y="449.95" text-anchor="middle" style="font-family:'Liberation Sans', sans-serif;font-size:9.9px;fill:#0f1c40;stroke:#0f1c40;stroke-width:0.12px">N</text>
<text x="663.92" y="449.95" text-anchor="middle" style="font-family:'Liberation Sans', sans-serif;font-size:9.9px;fill:#0f1c40;stroke:#0f1c40;stroke-width:0.12px">N</text>
<text x="689.27" y="449.95" text-anchor="middle" style="font-family:'Liberation Sans', sans-serif;font-size:9.9px;fill:#0f1c40;stroke:#0f1c40;stroke-width:0.12px">N</text>
<text x="739.97" y="449.95" text-anchor="middle" style="font-family:'Liberation Sans', sans-serif;font-size:9.9px;fill:#0f1c40;stroke:#0f1c40;stroke-width:0.12px">N</text>
<text x="841.38" y="449.95" text-anchor="middle" style="font-family:'Liberation Sans', sans-serif;font-size:9.9px;fill:#0f1c40;stroke:#0f1c40;stroke-width:0.12px">N</text>
<text x="942.77" y="449.95" text-anchor="middle" style="font-family:'Liberation Sans', sans-serif;font-size:9.9px;fill:#0f1c40;stroke:#0f1c40;stroke-width:0.12px">N</text>
<text x="1094.88" y="449.95" text-anchor="middle" style="font-family:'Liberation Sans', sans-serif;font-size:9.9px;fill:#0f1c40;stroke:#0f1c40;stroke-width:0.12px">N</text>
<path d="M282.85,456.45V464.50" stroke="#8a0a0a" stroke-width="0.9"/>
<path d="M280.95,458.45L284.75,458.45L282.85,455.45Z" fill="#8a0a0a"/>
<path d="M309.02,456.45V464.50" stroke="#8a0a0a" stroke-width="0.9"/>
<path d="M307.12,458.45L310.92,458.45L309.02,455.45Z" fill="#8a0a0a"/>
<text x="359.72" y="462.90" text-anchor="middle" style="font-family:'Liberation Sans', sans-serif;font-size:9.9px;fill:#0f1c40;stroke:#0f1c40;stroke-width:0.12px">N</text>
<path d="M461.12,456.45V464.50" stroke="#8a0a0a" stroke-width="0.9"/>
<path d="M459.23,458.45L463.02,458.45L461.12,455.45Z" fill="#8a0a0a"/>
<path d="M511.82,456.45V464.50" stroke="#8a0a0a" stroke-width="0.9"/>
<path d="M509.92,458.45L513.72,458.45L511.82,455.45Z" fill="#8a0a0a"/>
<path d="M537.17,456.45V464.50" stroke="#8a0a0a" stroke-width="0.9"/>
<path d="M535.27,458.45L539.07,458.45L537.17,455.45Z" fill="#8a0a0a"/>
<path d="M613.22,456.45V464.50" stroke="#8a0a0a" stroke-width="0.9"/>
<path d="M611.32,458.45L615.12,458.45L613.22,455.45Z" fill="#8a0a0a"/>
<path d="M663.92,456.45V464.50" stroke="#8a0a0a" stroke-width="0.9"/>
<path d="M662.02,458.45L665.82,458.45L663.92,455.45Z" fill="#8a0a0a"/>
<text x="689.27" y="462.90" text-anchor="middle" style="font-family:'Liberation Sans', sans-serif;font-size:9.9px;fill:#0f1c40;stroke:#0f1c40;stroke-width:0.12px">N</text>
<text x="739.97" y="462.90" text-anchor="middle" style="font-family:'Liberation Sans', sans-serif;font-size:9.9px;fill:#0f1c40;stroke:#0f1c40;stroke-width:0.12px">N</text>
<text x="841.38" y="462.90" text-anchor="middle" style="font-family:'Liberation Sans', sans-serif;font-size:9.9px;fill:#0f1c40;stroke:#0f1c40;stroke-width:0.12px">N</text>
<text x="942.77" y="462.90" text-anchor="middle" style="font-family:'Liberation Sans', sans-serif;font-size:9.9px;fill:#0f1c40;stroke:#0f1c40;stroke-width:0.12px">N</text>
<text x="1094.88" y="462.90" text-anchor="middle" style="font-family:'Liberation Sans', sans-serif;font-size:9.9px;fill:#0f1c40;stroke:#0f1c40;stroke-width:0.12px">N</text>
<path d="M282.85,468.40V476.44" stroke="#105a10" stroke-width="0.75"/>
<path d="M281.15,474.64L284.55,474.64L282.85,477.44Z" fill="#105a10"/>
<path d="M309.02,468.40V476.44" stroke="#105a10" stroke-width="0.75"/>
<path d="M307.32,474.64L310.72,474.64L309.02,477.44Z" fill="#105a10"/>
<path d="M359.72,468.40V476.44" stroke="#105a10" stroke-width="0.75"/>
<path d="M358.02,474.64L361.42,474.64L359.72,477.44Z" fill="#105a10"/>
<path d="M461.12,468.40V476.44" stroke="#105a10" stroke-width="0.75"/>
<path d="M459.43,474.64L462.82,474.64L461.12,477.44Z" fill="#105a10"/>
<path d="M511.82,468.40V476.44" stroke="#105a10" stroke-width="0.75"/>
<path d="M510.12,474.64L513.52,474.64L511.82,477.44Z" fill="#105a10"/>
<path d="M537.17,468.40V476.44" stroke="#105a10" stroke-width="0.75"/>
<path d="M535.47,474.64L538.88,474.64L537.17,477.44Z" fill="#105a10"/>
<path d="M613.22,468.40V476.44" stroke="#105a10" stroke-width="0.75"/>
<path d="M611.52,474.64L614.92,474.64L613.22,477.44Z" fill="#105a10"/>
<path d="M663.92,468.40V476.44" stroke="#105a10" stroke-width="0.75"/>
<path d="M662.22,474.64L665.62,474.64L663.92,477.44Z" fill="#105a10"/>
<path d="M689.27,468.40V476.44" stroke="#105a10" stroke-width="0.75"/>
<path d="M687.57,474.64L690.98,474.64L689.27,477.44Z" fill="#105a10"/>
<path d="M739.97,468.40V476.44" stroke="#105a10" stroke-width="0.75"/>
<path d="M738.27,474.64L741.67,474.64L739.97,477.44Z" fill="#105a10"/>
<text x="841.38" y="475.84" text-anchor="middle" style="font-family:'Liberation Sans', sans-serif;font-size:9.9px;fill:#0f1c40;stroke:#0f1c40;stroke-width:0.12px">N</text>
<text x="942.77" y="475.84" text-anchor="middle" style="font-family:'Liberation Sans', sans-serif;font-size:9.9px;fill:#0f1c40;stroke:#0f1c40;stroke-width:0.12px">N</text>
<text x="1094.88" y="475.84" text-anchor="middle" style="font-family:'Liberation Sans', sans-serif;font-size:9.9px;fill:#0f1c40;stroke:#0f1c40;stroke-width:0.12px">N</text>
<path d="M282.85,481.34V489.38" stroke="#105a10" stroke-width="0.75"/>
<path d="M281.15,487.58L284.55,487.58L282.85,490.38Z" fill="#105a10"/>
<path d="M309.02,481.34V489.38" stroke="#105a10" stroke-width="0.75"/>
<path d="M307.32,487.58L310.72,487.58L309.02,490.38Z" fill="#105a10"/>
<path d="M359.72,481.34V489.38" stroke="#105a10" stroke-width="0.75"/>
<path d="M358.02,487.58L361.42,487.58L359.72,490.38Z" fill="#105a10"/>
<text x="461.12" y="488.78" text-anchor="middle" style="font-family:'Liberation Sans', sans-serif;font-size:9.9px;fill:#0f1c40;stroke:#0f1c40;stroke-width:0.12px">N</text>
<path d="M511.82,481.34V489.38" stroke="#105a10" stroke-width="0.75"/>
<path d="M510.12,487.58L513.52,487.58L511.82,490.38Z" fill="#105a10"/>
<text x="537.17" y="488.78" text-anchor="middle" style="font-family:'Liberation Sans', sans-serif;font-size:9.9px;fill:#0f1c40;stroke:#0f1c40;stroke-width:0.12px">N</text>
<path d="M613.22,481.34V489.38" stroke="#105a10" stroke-width="0.75"/>
<path d="M611.52,487.58L614.92,487.58L613.22,490.38Z" fill="#105a10"/>
<path d="M663.92,481.34V489.38" stroke="#105a10" stroke-width="0.75"/>
<path d="M662.22,487.58L665.62,487.58L663.92,490.38Z" fill="#105a10"/>
<text x="689.27" y="488.78" text-anchor="middle" style="font-family:'Liberation Sans', sans-serif;font-size:9.9px;fill:#0f1c40;stroke:#0f1c40;stroke-width:0.12px">N</text>
<text x="739.97" y="488.78" text-anchor="middle" style="font-family:'Liberation Sans', sans-serif;font-size:9.9px;fill:#0f1c40;stroke:#0f1c40;stroke-width:0.12px">N</text>
<text x="841.38" y="488.78" text-anchor="middle" style="font-family:'Liberation Sans', sans-serif;font-size:9.9px;fill:#0f1c40;stroke:#0f1c40;stroke-width:0.12px">N</text>
<text x="942.77" y="488.78" text-anchor="middle" style="font-family:'Liberation Sans', sans-serif;font-size:9.9px;fill:#0f1c40;stroke:#0f1c40;stroke-width:0.12px">N</text>
<text x="1094.88" y="488.78" text-anchor="middle" style="font-family:'Liberation Sans', sans-serif;font-size:9.9px;fill:#0f1c40;stroke:#0f1c40;stroke-width:0.12px">N</text>
<path d="M282.85,494.28V502.33" stroke="#105a10" stroke-width="0.75"/>
<path d="M281.15,500.53L284.55,500.53L282.85,503.33Z" fill="#105a10"/>
<path d="M309.02,494.28V502.33" stroke="#105a10" stroke-width="0.75"/>
<path d="M307.32,500.53L310.72,500.53L309.02,503.33Z" fill="#105a10"/>
<text x="359.72" y="501.73" text-anchor="middle" style="font-family:'Liberation Sans', sans-serif;font-size:9.9px;fill:#0f1c40;stroke:#0f1c40;stroke-width:0.12px">N</text>
<text x="282.85" y="514.67" text-anchor="middle" style="font-family:'Liberation Sans', sans-serif;font-size:9.9px;fill:#0f1c40;stroke:#0f1c40;stroke-width:0.12px">N</text>
<path d="M309.02,507.23V515.27" stroke="#105a10" stroke-width="0.75"/>
<path d="M307.32,513.47L310.72,513.47L309.02,516.27Z" fill="#105a10"/>
<text x="359.72" y="514.67" text-anchor="middle" style="font-family:'Liberation Sans', sans-serif;font-size:9.9px;fill:#0f1c40;stroke:#0f1c40;stroke-width:0.12px">N</text>
<path d="M282.85,520.17V528.22" stroke="#105a10" stroke-width="0.75"/>
<path d="M281.15,526.42L284.55,526.42L282.85,529.22Z" fill="#105a10"/>
<path d="M309.02,520.17V528.22" stroke="#105a10" stroke-width="0.75"/>
<path d="M307.32,526.42L310.72,526.42L309.02,529.22Z" fill="#105a10"/>
<path d="M359.72,520.17V528.22" stroke="#105a10" stroke-width="0.75"/>
<path d="M358.02,526.42L361.42,526.42L359.72,529.22Z" fill="#105a10"/>
<path d="M282.85,534.12V542.16" stroke="#8a0a0a" stroke-width="0.9"/>
<path d="M280.95,536.12L284.75,536.12L282.85,533.12Z" fill="#8a0a0a"/>
<path d="M309.02,534.12V542.16" stroke="#8a0a0a" stroke-width="0.9"/>
<path d="M307.12,536.12L310.92,536.12L309.02,533.12Z" fill="#8a0a0a"/>
<path d="M359.72,534.12V542.16" stroke="#8a0a0a" stroke-width="0.9"/>
<path d="M357.82,536.12L361.62,536.12L359.72,533.12Z" fill="#8a0a0a"/>
<path d="M359.72,547.06V555.10" stroke="#8a0a0a" stroke-width="0.9"/>
<path d="M357.82,549.06L361.62,549.06L359.72,546.06Z" fill="#8a0a0a"/>
<path d="M739.97,547.06V555.10" stroke="#8a0a0a" stroke-width="0.9"/>
<path d="M738.07,549.06L741.87,549.06L739.97,546.06Z" fill="#8a0a0a"/>
<path d="M841.38,547.06V555.10" stroke="#8a0a0a" stroke-width="0.9"/>
<path d="M839.48,549.06L843.27,549.06L841.38,546.06Z" fill="#8a0a0a"/>
<path d="M1094.88,546.06V554.10" stroke="#105a10" stroke-width="0.75"/>
<path d="M1093.17,552.30L1096.58,552.30L1094.88,555.10Z" fill="#105a10"/>
<path d="M282.85,560.00V568.05" stroke="#8a0a0a" stroke-width="0.9"/>
<path d="M280.95,562.00L284.75,562.00L282.85,559.00Z" fill="#8a0a0a"/>
<path d="M309.02,560.00V568.05" stroke="#8a0a0a" stroke-width="0.9"/>
<path d="M307.12,562.00L310.92,562.00L309.02,559.00Z" fill="#8a0a0a"/>
<path d="M461.12,560.00V568.05" stroke="#8a0a0a" stroke-width="0.9"/>
<path d="M459.23,562.00L463.02,562.00L461.12,559.00Z" fill="#8a0a0a"/>
<path d="M511.82,560.00V568.05" stroke="#8a0a0a" stroke-width="0.9"/>
<path d="M509.92,562.00L513.72,562.00L511.82,559.00Z" fill="#8a0a0a"/>
<path d="M537.17,560.00V568.05" stroke="#8a0a0a" stroke-width="0.9"/>
<path d="M535.27,562.00L539.07,562.00L537.17,559.00Z" fill="#8a0a0a"/>
<path d="M613.22,560.00V568.05" stroke="#8a0a0a" stroke-width="0.9"/>
<path d="M611.32,562.00L615.12,562.00L613.22,559.00Z" fill="#8a0a0a"/>
<path d="M663.92,560.00V568.05" stroke="#8a0a0a" stroke-width="0.9"/>
<path d="M662.02,562.00L665.82,562.00L663.92,559.00Z" fill="#8a0a0a"/>
<path d="M689.27,560.00V568.05" stroke="#8a0a0a" stroke-width="0.9"/>
<path d="M687.38,562.00L691.17,562.00L689.27,559.00Z" fill="#8a0a0a"/>
<path d="M739.97,560.00V568.05" stroke="#8a0a0a" stroke-width="0.9"/>
<path d="M738.07,562.00L741.87,562.00L739.97,559.00Z" fill="#8a0a0a"/>
<text x="841.38" y="566.45" text-anchor="middle" style="font-family:'Liberation Sans', sans-serif;font-size:9.9px;fill:#0f1c40;stroke:#0f1c40;stroke-width:0.12px">N</text>
<text x="942.77" y="566.45" text-anchor="middle" style="font-family:'Liberation Sans', sans-serif;font-size:9.9px;fill:#0f1c40;stroke:#0f1c40;stroke-width:0.12px">N</text>
<text x="1094.88" y="566.45" text-anchor="middle" style="font-family:'Liberation Sans', sans-serif;font-size:9.9px;fill:#0f1c40;stroke:#0f1c40;stroke-width:0.12px">N</text>
<text x="282.85" y="579.39" text-anchor="middle" style="font-family:'Liberation Sans', sans-serif;font-size:9.9px;fill:#0f1c40;stroke:#0f1c40;stroke-width:0.12px">N</text>
<path d="M461.12,572.95V580.99" stroke="#8a0a0a" stroke-width="0.9"/>
<path d="M459.23,574.95L463.02,574.95L461.12,571.95Z" fill="#8a0a0a"/>
<path d="M511.82,572.95V580.99" stroke="#8a0a0a" stroke-width="0.9"/>
<path d="M509.92,574.95L513.72,574.95L511.82,571.95Z" fill="#8a0a0a"/>
<path d="M613.22,572.95V580.99" stroke="#8a0a0a" stroke-width="0.9"/>
<path d="M611.32,574.95L615.12,574.95L613.22,571.95Z" fill="#8a0a0a"/>
<text x="739.97" y="579.39" text-anchor="middle" style="font-family:'Liberation Sans', sans-serif;font-size:9.9px;fill:#0f1c40;stroke:#0f1c40;stroke-width:0.12px">N</text>
<text x="942.77" y="579.39" text-anchor="middle" style="font-family:'Liberation Sans', sans-serif;font-size:9.9px;fill:#0f1c40;stroke:#0f1c40;stroke-width:0.12px">N</text>
<text x="1094.88" y="579.39" text-anchor="middle" style="font-family:'Liberation Sans', sans-serif;font-size:9.9px;fill:#0f1c40;stroke:#0f1c40;stroke-width:0.12px">N</text>
<path d="M663.92,585.89V593.94" stroke="#8a0a0a" stroke-width="0.9"/>
<path d="M662.02,587.89L665.82,587.89L663.92,584.89Z" fill="#8a0a0a"/>
<path d="M739.97,585.89V593.94" stroke="#8a0a0a" stroke-width="0.9"/>
<path d="M738.07,587.89L741.87,587.89L739.97,584.89Z" fill="#8a0a0a"/>
<text x="461.12" y="605.28" text-anchor="middle" style="font-family:'Liberation Sans', sans-serif;font-size:9.9px;fill:#0f1c40;stroke:#0f1c40;stroke-width:0.12px">N</text>
<path d="M739.97,597.84V605.88" stroke="#105a10" stroke-width="0.75"/>
<path d="M738.27,604.08L741.67,604.08L739.97,606.88Z" fill="#105a10"/>
<text x="841.38" y="605.28" text-anchor="middle" style="font-family:'Liberation Sans', sans-serif;font-size:9.9px;fill:#0f1c40;stroke:#0f1c40;stroke-width:0.12px">N</text>
<text x="942.77" y="605.28" text-anchor="middle" style="font-family:'Liberation Sans', sans-serif;font-size:9.9px;fill:#0f1c40;stroke:#0f1c40;stroke-width:0.12px">N</text>
<text x="1094.88" y="605.28" text-anchor="middle" style="font-family:'Liberation Sans', sans-serif;font-size:9.9px;fill:#0f1c40;stroke:#0f1c40;stroke-width:0.12px">N</text>
<path d="M461.12,610.78V618.82" stroke="#105a10" stroke-width="0.75"/>
<path d="M459.43,617.02L462.82,617.02L461.12,619.82Z" fill="#105a10"/>
<path d="M739.97,610.78V618.82" stroke="#105a10" stroke-width="0.75"/>
<path d="M738.27,617.02L741.67,617.02L739.97,619.82Z" fill="#105a10"/>
<text x="841.38" y="618.22" text-anchor="middle" style="font-family:'Liberation Sans', sans-serif;font-size:9.9px;fill:#0f1c40;stroke:#0f1c40;stroke-width:0.12px">N</text>
<text x="942.77" y="618.22" text-anchor="middle" style="font-family:'Liberation Sans', sans-serif;font-size:9.9px;fill:#0f1c40;stroke:#0f1c40;stroke-width:0.12px">N</text>
<text x="1094.88" y="618.22" text-anchor="middle" style="font-family:'Liberation Sans', sans-serif;font-size:9.9px;fill:#0f1c40;stroke:#0f1c40;stroke-width:0.12px">N</text>
<text x="461.12" y="631.17" text-anchor="middle" style="font-family:'Liberation Sans', sans-serif;font-size:9.9px;fill:#0f1c40;stroke:#0f1c40;stroke-width:0.12px">N</text>
<text x="739.97" y="631.17" text-anchor="middle" style="font-family:'Liberation Sans', sans-serif;font-size:9.9px;fill:#0f1c40;stroke:#0f1c40;stroke-width:0.12px">N</text>
<path d="M841.38,624.72V632.77" stroke="#8a0a0a" stroke-width="0.9"/>
<path d="M839.48,626.72L843.27,626.72L841.38,623.72Z" fill="#8a0a0a"/>
<text x="461.12" y="644.11" text-anchor="middle" style="font-family:'Liberation Sans', sans-serif;font-size:9.9px;fill:#0f1c40;stroke:#0f1c40;stroke-width:0.12px">N</text>
<text x="739.97" y="644.11" text-anchor="middle" style="font-family:'Liberation Sans', sans-serif;font-size:9.9px;fill:#0f1c40;stroke:#0f1c40;stroke-width:0.12px">N</text>
<path d="M841.38,637.67V645.71" stroke="#8a0a0a" stroke-width="0.9"/>
<path d="M839.48,639.67L843.27,639.67L841.38,636.67Z" fill="#8a0a0a"/>
<text x="942.77" y="644.11" text-anchor="middle" style="font-family:'Liberation Sans', sans-serif;font-size:9.9px;fill:#0f1c40;stroke:#0f1c40;stroke-width:0.12px">N</text>
<text x="1094.88" y="644.11" text-anchor="middle" style="font-family:'Liberation Sans', sans-serif;font-size:9.9px;fill:#0f1c40;stroke:#0f1c40;stroke-width:0.12px">N</text>
<path d="M461.12,650.61V658.66" stroke="#8a0a0a" stroke-width="0.9"/>
<path d="M459.23,652.61L463.02,652.61L461.12,649.61Z" fill="#8a0a0a"/>
<path d="M739.97,650.61V658.66" stroke="#8a0a0a" stroke-width="0.9"/>
<path d="M738.07,652.61L741.87,652.61L739.97,649.61Z" fill="#8a0a0a"/>
<text x="942.77" y="657.06" text-anchor="middle" style="font-family:'Liberation Sans', sans-serif;font-size:9.9px;fill:#0f1c40;stroke:#0f1c40;stroke-width:0.12px">N</text>
<path d="M1094.88,649.61V657.66" stroke="#105a10" stroke-width="0.75"/>
<path d="M1093.17,655.86L1096.58,655.86L1094.88,658.66Z" fill="#105a10"/>
<path d="M461.12,662.56V670.60" stroke="#105a10" stroke-width="0.75"/>
<path d="M459.43,668.80L462.82,668.80L461.12,671.60Z" fill="#105a10"/>
<path d="M739.97,662.56V670.60" stroke="#105a10" stroke-width="0.75"/>
<path d="M738.27,668.80L741.67,668.80L739.97,671.60Z" fill="#105a10"/>
<text x="841.38" y="670.00" text-anchor="middle" style="font-family:'Liberation Sans', sans-serif;font-size:9.9px;fill:#0f1c40;stroke:#0f1c40;stroke-width:0.12px">N</text>
<text x="942.77" y="670.00" text-anchor="middle" style="font-family:'Liberation Sans', sans-serif;font-size:9.9px;fill:#0f1c40;stroke:#0f1c40;stroke-width:0.12px">N</text>
<text x="1094.88" y="670.00" text-anchor="middle" style="font-family:'Liberation Sans', sans-serif;font-size:9.9px;fill:#0f1c40;stroke:#0f1c40;stroke-width:0.12px">N</text>
<text x="461.12" y="682.94" text-anchor="middle" style="font-family:'Liberation Sans', sans-serif;font-size:9.9px;fill:#0f1c40;stroke:#0f1c40;stroke-width:0.12px">N</text>
<text x="841.38" y="682.94" text-anchor="middle" style="font-family:'Liberation Sans', sans-serif;font-size:9.9px;fill:#0f1c40;stroke:#0f1c40;stroke-width:0.12px">N</text>
<text x="942.77" y="682.94" text-anchor="middle" style="font-family:'Liberation Sans', sans-serif;font-size:9.9px;fill:#0f1c40;stroke:#0f1c40;stroke-width:0.12px">N</text>
<text x="1094.88" y="682.94" text-anchor="middle" style="font-family:'Liberation Sans', sans-serif;font-size:9.9px;fill:#0f1c40;stroke:#0f1c40;stroke-width:0.12px">N</text>
<text x="461.12" y="695.89" text-anchor="middle" style="font-family:'Liberation Sans', sans-serif;font-size:9.9px;fill:#0f1c40;stroke:#0f1c40;stroke-width:0.12px">N</text>
<text x="841.38" y="695.89" text-anchor="middle" style="font-family:'Liberation Sans', sans-serif;font-size:9.9px;fill:#0f1c40;stroke:#0f1c40;stroke-width:0.12px">N</text>
<text x="942.77" y="695.89" text-anchor="middle" style="font-family:'Liberation Sans', sans-serif;font-size:9.9px;fill:#0f1c40;stroke:#0f1c40;stroke-width:0.12px">N</text>
<text x="1094.88" y="695.89" text-anchor="middle" style="font-family:'Liberation Sans', sans-serif;font-size:9.9px;fill:#0f1c40;stroke:#0f1c40;stroke-width:0.12px">N</text>
<text x="282.85" y="708.83" text-anchor="middle" style="font-family:'Liberation Sans', sans-serif;font-size:9.9px;fill:#0f1c40;stroke:#0f1c40;stroke-width:0.12px">N</text>
<text x="537.17" y="708.83" text-anchor="middle" style="font-family:'Liberation Sans', sans-serif;font-size:9.9px;fill:#0f1c40;stroke:#0f1c40;stroke-width:0.12px">N</text>
<text x="739.97" y="708.83" text-anchor="middle" style="font-family:'Liberation Sans', sans-serif;font-size:9.9px;fill:#0f1c40;stroke:#0f1c40;stroke-width:0.12px">N</text>
<path d="M282.85,714.33V722.38" stroke="#105a10" stroke-width="0.75"/>
<path d="M281.15,720.58L284.55,720.58L282.85,723.38Z" fill="#105a10"/>
<text x="537.17" y="734.72" text-anchor="middle" style="font-family:'Liberation Sans', sans-serif;font-size:9.9px;fill:#0f1c40;stroke:#0f1c40;stroke-width:0.12px">N</text>
<text x="739.97" y="734.72" text-anchor="middle" style="font-family:'Liberation Sans', sans-serif;font-size:9.9px;fill:#0f1c40;stroke:#0f1c40;stroke-width:0.12px">N</text>
<path d="M282.85,741.22V749.26" stroke="#8a0a0a" stroke-width="0.9"/>
<path d="M280.95,743.22L284.75,743.22L282.85,740.22Z" fill="#8a0a0a"/>
<path d="M537.17,741.22V749.26" stroke="#8a0a0a" stroke-width="0.9"/>
<path d="M535.27,743.22L539.07,743.22L537.17,740.22Z" fill="#8a0a0a"/>
<path d="M739.97,741.22V749.26" stroke="#8a0a0a" stroke-width="0.9"/>
<path d="M738.07,743.22L741.87,743.22L739.97,740.22Z" fill="#8a0a0a"/>
<path d="M282.85,754.16V762.21" stroke="#8a0a0a" stroke-width="0.9"/>
<path d="M280.95,756.16L284.75,756.16L282.85,753.16Z" fill="#8a0a0a"/>
<path d="M537.17,754.16V762.21" stroke="#8a0a0a" stroke-width="0.9"/>
<path d="M535.27,756.16L539.07,756.16L537.17,753.16Z" fill="#8a0a0a"/>
<path d="M739.97,754.16V762.21" stroke="#8a0a0a" stroke-width="0.9"/>
<path d="M738.07,756.16L741.87,756.16L739.97,753.16Z" fill="#8a0a0a"/>
<path d="M461.12,766.11V774.15" stroke="#105a10" stroke-width="0.75"/>
<path d="M459.43,772.35L462.82,772.35L461.12,775.15Z" fill="#105a10"/>
<text x="739.97" y="773.55" text-anchor="middle" style="font-family:'Liberation Sans', sans-serif;font-size:9.9px;fill:#0f1c40;stroke:#0f1c40;stroke-width:0.12px">N</text>
<text x="841.38" y="773.55" text-anchor="middle" style="font-family:'Liberation Sans', sans-serif;font-size:9.9px;fill:#0f1c40;stroke:#0f1c40;stroke-width:0.12px">N</text>
<path d="M461.12,779.05V787.10" stroke="#105a10" stroke-width="0.75"/>
<path d="M459.43,785.30L462.82,785.30L461.12,788.10Z" fill="#105a10"/>
<path d="M739.97,779.05V787.10" stroke="#105a10" stroke-width="0.75"/>
<path d="M738.27,785.30L741.67,785.30L739.97,788.10Z" fill="#105a10"/>
<path d="M841.38,779.05V787.10" stroke="#105a10" stroke-width="0.75"/>
<path d="M839.67,785.30L843.08,785.30L841.38,788.10Z" fill="#105a10"/>
<path d="M282.85,793.00V801.04" stroke="#8a0a0a" stroke-width="0.9"/>
<path d="M280.95,795.00L284.75,795.00L282.85,792.00Z" fill="#8a0a0a"/>
<text x="739.97" y="812.38" text-anchor="middle" style="font-family:'Liberation Sans', sans-serif;font-size:9.9px;fill:#0f1c40;stroke:#0f1c40;stroke-width:0.12px">N</text>
</svg>
</body></html>
